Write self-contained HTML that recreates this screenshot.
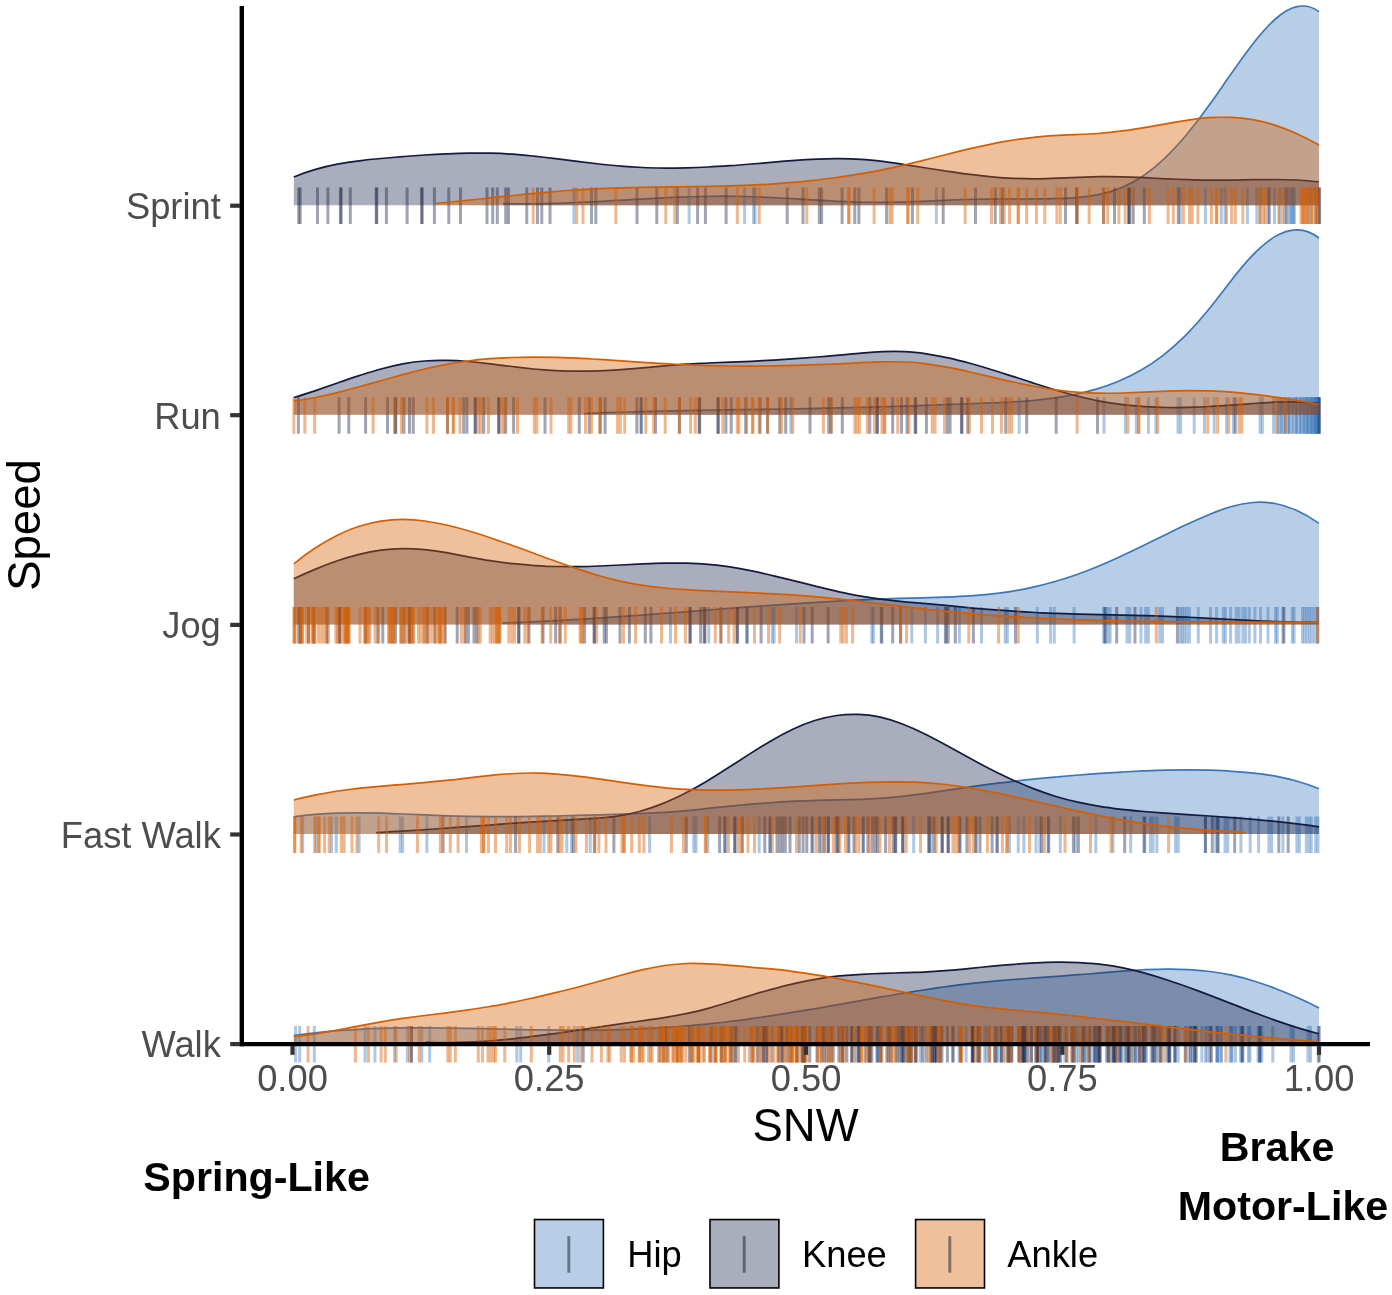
<!DOCTYPE html>
<html lang="en">
<head>
<meta charset="utf-8">
<title>SNW by Speed</title>
<style>
html,body{margin:0;padding:0;background:#fff;}
body{width:1392px;height:1295px;overflow:hidden;}
svg{display:block;}
.t,.t text{font-family:"Liberation Sans",sans-serif;}
</style>
</head>
<body>
<svg width="1392" height="1295" viewBox="0 0 1392 1295">
<rect width="1392" height="1295" fill="#fff"/>
<g>
<path d="M503 203.6C510.4 203.8 517.7 203.9 525.1 203.9C532.4 203.9 539.8 203.8 547.1 203.6C554.5 203.4 561.8 203.2 569.2 202.9C576.5 202.6 583.9 202.2 591.2 201.9C598.6 201.5 605.9 201.1 613.3 200.7C620.6 200.2 628 199.8 635.3 199.4C642.7 199 650 198.6 657.4 198.2C664.7 197.8 672.1 197.5 679.4 197.2C686.8 196.9 694.1 196.6 701.5 196.5C708.8 196.3 716.2 196.2 723.5 196.2C730.9 196.2 738.2 196.3 745.6 196.5C752.9 196.7 760.3 196.9 767.6 197.3C775 197.7 782.4 198.1 789.7 198.5C797.1 198.9 804.4 199.4 811.8 199.8C819.1 200.3 826.5 200.7 833.8 201.1C841.2 201.4 848.5 201.8 855.9 202C863.2 202.2 870.6 202.4 877.9 202.4C885.3 202.4 892.6 202.3 900 202.1C907.3 201.9 914.7 201.6 922 201.3C929.4 201 936.7 200.7 944.1 200.4C951.4 200.1 958.8 199.8 966.1 199.5C973.5 199.3 980.8 199.2 988.2 199.1C995.5 199 1002.9 199 1010.2 199C1017.6 199 1024.9 199 1032.3 198.9C1039.6 198.9 1047 198.9 1054.4 198.7C1061.7 198.6 1069.1 198.3 1076.4 197.7C1083.8 197.1 1091.1 196.2 1098.5 194.7C1105.8 193.2 1113.2 191.1 1120.5 188.1C1127.9 185.1 1135.2 181.3 1142.6 176.3C1149.9 171.3 1157.3 165.3 1164.6 158.3C1172 151.3 1179.3 143.3 1186.7 134.5C1194 125.8 1201.4 116.1 1208.7 105.8C1216.1 95.6 1223.4 84.8 1230.8 74.3C1238.1 63.7 1245.5 53.4 1252.8 43.9C1260.2 34.5 1267.5 26 1274.9 19.5C1282.2 12.9 1289.6 8.3 1296.9 6.7C1304.3 5 1311.6 6.3 1319 11.6L1319 205.2L503 205.2Z" fill="#3a77ba" fill-opacity="0.36"/>
<path d="M503 203.6C510.4 203.8 517.7 203.9 525.1 203.9C532.4 203.9 539.8 203.8 547.1 203.6C554.5 203.4 561.8 203.2 569.2 202.9C576.5 202.6 583.9 202.2 591.2 201.9C598.6 201.5 605.9 201.1 613.3 200.7C620.6 200.2 628 199.8 635.3 199.4C642.7 199 650 198.6 657.4 198.2C664.7 197.8 672.1 197.5 679.4 197.2C686.8 196.9 694.1 196.6 701.5 196.5C708.8 196.3 716.2 196.2 723.5 196.2C730.9 196.2 738.2 196.3 745.6 196.5C752.9 196.7 760.3 196.9 767.6 197.3C775 197.7 782.4 198.1 789.7 198.5C797.1 198.9 804.4 199.4 811.8 199.8C819.1 200.3 826.5 200.7 833.8 201.1C841.2 201.4 848.5 201.8 855.9 202C863.2 202.2 870.6 202.4 877.9 202.4C885.3 202.4 892.6 202.3 900 202.1C907.3 201.9 914.7 201.6 922 201.3C929.4 201 936.7 200.7 944.1 200.4C951.4 200.1 958.8 199.8 966.1 199.5C973.5 199.3 980.8 199.2 988.2 199.1C995.5 199 1002.9 199 1010.2 199C1017.6 199 1024.9 199 1032.3 198.9C1039.6 198.9 1047 198.9 1054.4 198.7C1061.7 198.6 1069.1 198.3 1076.4 197.7C1083.8 197.1 1091.1 196.2 1098.5 194.7C1105.8 193.2 1113.2 191.1 1120.5 188.1C1127.9 185.1 1135.2 181.3 1142.6 176.3C1149.9 171.3 1157.3 165.3 1164.6 158.3C1172 151.3 1179.3 143.3 1186.7 134.5C1194 125.8 1201.4 116.1 1208.7 105.8C1216.1 95.6 1223.4 84.8 1230.8 74.3C1238.1 63.7 1245.5 53.4 1252.8 43.9C1260.2 34.5 1267.5 26 1274.9 19.5C1282.2 12.9 1289.6 8.3 1296.9 6.7C1304.3 5 1311.6 6.3 1319 11.6" fill="none" stroke="#3a77ba" stroke-width="1.7" stroke-linecap="butt"/>
<g stroke="#3a77ba" stroke-opacity="0.41" stroke-width="3" fill="none">
<path d="M573.9 187.6v36.5M1077 187.6v36.5M1225 187.6v36.5M1280 187.6v36.5M1294.5 187.6v36.5"/>
<path d="M689.1 187.6v36.5M1129.5 187.6v36.5M1247.4 187.6v36.5M1284.8 187.6v36.5M1310 187.6v36.5"/>
<path d="M744.6 187.6v36.5M1133.5 187.6v36.5M1256.8 187.6v36.5M1289.5 187.6v36.5M1315.6 187.6v36.5"/>
<path d="M753.6 187.6v36.5M1180.2 187.6v36.5M1260.5 187.6v36.5M1291 187.6v36.5"/>
<path d="M755 187.6v36.5M1205.4 187.6v36.5M1268 187.6v36.5M1292.3 187.6v36.5"/>
<path d="M936.4 187.6v36.5M1221.3 187.6v36.5M1274.5 187.6v36.5M1293.4 187.6v36.5"/>
</g>
<path d="M293.8 177C301 174 308.3 171.5 315.6 169.4C322.8 167.3 330.1 165.6 337.4 164.2C344.6 162.8 351.9 161.7 359.2 160.8C366.5 159.8 373.7 159.1 381 158.5C388.3 157.8 395.5 157.2 402.8 156.6C410.1 156.1 417.4 155.5 424.6 155C431.9 154.5 439.2 154.1 446.4 153.8C453.7 153.5 461 153.2 468.3 153.1C475.5 153 482.8 153 490.1 153.2C497.3 153.4 504.6 153.7 511.9 154.2C519.2 154.7 526.4 155.4 533.7 156.1C541 156.9 548.2 157.7 555.5 158.6C562.8 159.5 570.1 160.5 577.3 161.4C584.6 162.3 591.9 163.2 599.1 164C606.4 164.8 613.7 165.6 621 166.2C628.2 166.8 635.5 167.2 642.8 167.5C650 167.9 657.3 168 664.6 168.1C671.9 168.1 679.1 168 686.4 167.9C693.7 167.7 700.9 167.4 708.2 167C715.5 166.7 722.8 166.2 730 165.7C737.3 165.2 744.6 164.6 751.8 164C759.1 163.4 766.4 162.8 773.7 162.2C780.9 161.5 788.2 160.9 795.5 160.4C802.7 159.8 810 159.4 817.3 159.1C824.6 158.7 831.8 158.5 839.1 158.6C846.4 158.6 853.6 158.8 860.9 159.3C868.2 159.7 875.5 160.5 882.7 161.4C890 162.4 897.3 163.4 904.5 164.6C911.8 165.7 919.1 166.8 926.4 168C933.6 169.1 940.9 170.3 948.2 171.3C955.4 172.4 962.7 173.4 970 174.4C977.2 175.3 984.5 176.1 991.8 176.8C999.1 177.5 1006.3 178 1013.6 178.3C1020.9 178.7 1028.1 178.8 1035.4 178.8C1042.7 178.7 1050 178.5 1057.2 178.2C1064.5 177.9 1071.8 177.6 1079 177.3C1086.3 177 1093.6 176.7 1100.9 176.7C1108.1 176.6 1115.4 176.7 1122.7 176.9C1129.9 177.1 1137.2 177.4 1144.5 177.7C1151.8 178.1 1159 178.4 1166.3 178.8C1173.6 179.1 1180.8 179.4 1188.1 179.6C1195.4 179.9 1202.7 180 1209.9 180.1C1217.2 180.2 1224.5 180.2 1231.7 180.1C1239 180 1246.3 179.8 1253.6 179.7C1260.8 179.6 1268.1 179.5 1275.4 179.5C1282.6 179.5 1289.9 179.7 1297.2 180C1304.5 180.4 1311.7 181.1 1319 182L1319 205.2L293.8 205.2Z" fill="#131b42" fill-opacity="0.36"/>
<path d="M293.8 177C301 174 308.3 171.5 315.6 169.4C322.8 167.3 330.1 165.6 337.4 164.2C344.6 162.8 351.9 161.7 359.2 160.8C366.5 159.8 373.7 159.1 381 158.5C388.3 157.8 395.5 157.2 402.8 156.6C410.1 156.1 417.4 155.5 424.6 155C431.9 154.5 439.2 154.1 446.4 153.8C453.7 153.5 461 153.2 468.3 153.1C475.5 153 482.8 153 490.1 153.2C497.3 153.4 504.6 153.7 511.9 154.2C519.2 154.7 526.4 155.4 533.7 156.1C541 156.9 548.2 157.7 555.5 158.6C562.8 159.5 570.1 160.5 577.3 161.4C584.6 162.3 591.9 163.2 599.1 164C606.4 164.8 613.7 165.6 621 166.2C628.2 166.8 635.5 167.2 642.8 167.5C650 167.9 657.3 168 664.6 168.1C671.9 168.1 679.1 168 686.4 167.9C693.7 167.7 700.9 167.4 708.2 167C715.5 166.7 722.8 166.2 730 165.7C737.3 165.2 744.6 164.6 751.8 164C759.1 163.4 766.4 162.8 773.7 162.2C780.9 161.5 788.2 160.9 795.5 160.4C802.7 159.8 810 159.4 817.3 159.1C824.6 158.7 831.8 158.5 839.1 158.6C846.4 158.6 853.6 158.8 860.9 159.3C868.2 159.7 875.5 160.5 882.7 161.4C890 162.4 897.3 163.4 904.5 164.6C911.8 165.7 919.1 166.8 926.4 168C933.6 169.1 940.9 170.3 948.2 171.3C955.4 172.4 962.7 173.4 970 174.4C977.2 175.3 984.5 176.1 991.8 176.8C999.1 177.5 1006.3 178 1013.6 178.3C1020.9 178.7 1028.1 178.8 1035.4 178.8C1042.7 178.7 1050 178.5 1057.2 178.2C1064.5 177.9 1071.8 177.6 1079 177.3C1086.3 177 1093.6 176.7 1100.9 176.7C1108.1 176.6 1115.4 176.7 1122.7 176.9C1129.9 177.1 1137.2 177.4 1144.5 177.7C1151.8 178.1 1159 178.4 1166.3 178.8C1173.6 179.1 1180.8 179.4 1188.1 179.6C1195.4 179.9 1202.7 180 1209.9 180.1C1217.2 180.2 1224.5 180.2 1231.7 180.1C1239 180 1246.3 179.8 1253.6 179.7C1260.8 179.6 1268.1 179.5 1275.4 179.5C1282.6 179.5 1289.9 179.7 1297.2 180C1304.5 180.4 1311.7 181.1 1319 182" fill="none" stroke="#131b42" stroke-width="1.7" stroke-linecap="butt"/>
<g stroke="#131b42" stroke-opacity="0.40" stroke-width="3" fill="none">
<path d="M298.7 187.6v36.5M350.3 187.6v36.5M422.2 187.6v36.5M497.3 187.6v36.5M550 187.6v36.5M697.6 187.6v36.5M821.6 187.6v36.5M943.2 187.6v36.5M1103.6 187.6v36.5M1269.3 187.6v36.5"/>
<path d="M300.2 187.6v36.5M376.2 187.6v36.5M434.4 187.6v36.5M505.7 187.6v36.5M591.5 187.6v36.5M705.4 187.6v36.5M842.1 187.6v36.5M975.5 187.6v36.5M1114.5 187.6v36.5M1286.7 187.6v36.5"/>
<path d="M317.5 187.6v36.5M376.8 187.6v36.5M448.8 187.6v36.5M508.5 187.6v36.5M595.8 187.6v36.5M726.1 187.6v36.5M854.8 187.6v36.5M995.3 187.6v36.5M1128.5 187.6v36.5M1319 187.6v36.5"/>
<path d="M327.9 187.6v36.5M386.4 187.6v36.5M460.5 187.6v36.5M526.8 187.6v36.5M637 187.6v36.5M787.2 187.6v36.5M858.9 187.6v36.5M1002.4 187.6v36.5M1129.3 187.6v36.5M1319.6 187.6v36.5"/>
<path d="M340.4 187.6v36.5M407.1 187.6v36.5M487 187.6v36.5M537.5 187.6v36.5M656.8 187.6v36.5M803 187.6v36.5M886.6 187.6v36.5M1065.5 187.6v36.5M1144.3 187.6v36.5"/>
<path d="M341.2 187.6v36.5M421.6 187.6v36.5M492.7 187.6v36.5M541.8 187.6v36.5M677.4 187.6v36.5M819.3 187.6v36.5M912.4 187.6v36.5M1076.5 187.6v36.5M1178.3 187.6v36.5"/>
</g>
<path d="M435.5 203.5C442.9 202.8 450.2 202.1 457.6 201.3C464.9 200.5 472.3 199.8 479.7 199C487 198.2 494.4 197.4 501.8 196.6C509.1 195.9 516.5 195.1 523.9 194.4C531.2 193.7 538.6 193 545.9 192.3C553.3 191.7 560.7 191.1 568 190.5C575.4 190 582.8 189.5 590.1 189.1C597.5 188.7 604.8 188.4 612.2 188.1C619.6 187.9 626.9 187.7 634.3 187.5C641.6 187.3 649 187.2 656.4 187.1C663.7 187 671.1 186.9 678.5 186.8C685.8 186.7 693.2 186.6 700.5 186.5C707.9 186.4 715.3 186.3 722.6 186.1C730 185.9 737.4 185.7 744.7 185.4C752.1 185.1 759.4 184.7 766.8 184.3C774.2 183.8 781.5 183.3 788.9 182.7C796.3 182.1 803.6 181.4 811 180.6C818.4 179.8 825.7 178.9 833.1 178C840.4 177 847.8 175.9 855.2 174.7C862.5 173.5 869.9 172.2 877.2 170.8C884.6 169.4 892 167.8 899.3 166.2C906.7 164.5 914.1 162.7 921.4 160.9C928.8 159 936.1 157.1 943.5 155.2C950.9 153.3 958.2 151.5 965.6 149.7C973 147.9 980.3 146.3 987.7 144.8C995 143.3 1002.4 141.9 1009.8 140.7C1017.1 139.5 1024.5 138.5 1031.9 137.6C1039.2 136.8 1046.6 136.1 1053.9 135.7C1061.3 135.2 1068.7 134.9 1076 134.6C1083.4 134.3 1090.8 134 1098.1 133.5C1105.5 132.9 1112.9 132.2 1120.2 131.2C1127.6 130.3 1134.9 129.1 1142.3 127.9C1149.7 126.7 1157 125.4 1164.4 124.1C1171.7 122.8 1179.1 121.5 1186.5 120.4C1193.8 119.2 1201.2 118.2 1208.6 117.7C1215.9 117.2 1223.3 117.1 1230.7 117.4C1238 117.7 1245.4 118.5 1252.7 119.7C1260.1 121 1267.5 122.8 1274.8 125.1C1282.2 127.5 1289.5 130.4 1296.9 133.7C1304.3 137.1 1311.6 140.9 1319 145L1319 205.2L435.5 205.2Z" fill="#d55e00" fill-opacity="0.39"/>
<path d="M435.5 203.5C442.9 202.8 450.2 202.1 457.6 201.3C464.9 200.5 472.3 199.8 479.7 199C487 198.2 494.4 197.4 501.8 196.6C509.1 195.9 516.5 195.1 523.9 194.4C531.2 193.7 538.6 193 545.9 192.3C553.3 191.7 560.7 191.1 568 190.5C575.4 190 582.8 189.5 590.1 189.1C597.5 188.7 604.8 188.4 612.2 188.1C619.6 187.9 626.9 187.7 634.3 187.5C641.6 187.3 649 187.2 656.4 187.1C663.7 187 671.1 186.9 678.5 186.8C685.8 186.7 693.2 186.6 700.5 186.5C707.9 186.4 715.3 186.3 722.6 186.1C730 185.9 737.4 185.7 744.7 185.4C752.1 185.1 759.4 184.7 766.8 184.3C774.2 183.8 781.5 183.3 788.9 182.7C796.3 182.1 803.6 181.4 811 180.6C818.4 179.8 825.7 178.9 833.1 178C840.4 177 847.8 175.9 855.2 174.7C862.5 173.5 869.9 172.2 877.2 170.8C884.6 169.4 892 167.8 899.3 166.2C906.7 164.5 914.1 162.7 921.4 160.9C928.8 159 936.1 157.1 943.5 155.2C950.9 153.3 958.2 151.5 965.6 149.7C973 147.9 980.3 146.3 987.7 144.8C995 143.3 1002.4 141.9 1009.8 140.7C1017.1 139.5 1024.5 138.5 1031.9 137.6C1039.2 136.8 1046.6 136.1 1053.9 135.7C1061.3 135.2 1068.7 134.9 1076 134.6C1083.4 134.3 1090.8 134 1098.1 133.5C1105.5 132.9 1112.9 132.2 1120.2 131.2C1127.6 130.3 1134.9 129.1 1142.3 127.9C1149.7 126.7 1157 125.4 1164.4 124.1C1171.7 122.8 1179.1 121.5 1186.5 120.4C1193.8 119.2 1201.2 118.2 1208.6 117.7C1215.9 117.2 1223.3 117.1 1230.7 117.4C1238 117.7 1245.4 118.5 1252.7 119.7C1260.1 121 1267.5 122.8 1274.8 125.1C1282.2 127.5 1289.5 130.4 1296.9 133.7C1304.3 137.1 1311.6 140.9 1319 145" fill="none" stroke="#d55e00" stroke-width="1.7" stroke-linecap="butt"/>
<g stroke="#d55e00" stroke-opacity="0.44" stroke-width="3" fill="none">
<path d="M533.2 187.6v36.5M737.3 187.6v36.5M889.9 187.6v36.5M991.5 187.6v36.5M1026.7 187.6v36.5M1089.2 187.6v36.5M1149.4 187.6v36.5M1197.9 187.6v36.5M1235.3 187.6v36.5M1282.9 187.6v36.5M1307.5 187.6v36.5M1317.5 187.6v36.5"/>
<path d="M576.7 187.6v36.5M759.2 187.6v36.5M892.2 187.6v36.5M1000.5 187.6v36.5M1036.4 187.6v36.5M1103.6 187.6v36.5M1168.1 187.6v36.5M1211.4 187.6v36.5M1242.8 187.6v36.5M1301 187.6v36.5M1308.5 187.6v36.5"/>
<path d="M583 187.6v36.5M806.8 187.6v36.5M907.6 187.6v36.5M1004.2 187.6v36.5M1044.8 187.6v36.5M1107.7 187.6v36.5M1173.3 187.6v36.5M1216.3 187.6v36.5M1259.6 187.6v36.5M1302.5 187.6v36.5M1311.5 187.6v36.5"/>
<path d="M615.9 187.6v36.5M848.5 187.6v36.5M908.2 187.6v36.5M1009.5 187.6v36.5M1056.9 187.6v36.5M1118.9 187.6v36.5M1183.4 187.6v36.5M1216.9 187.6v36.5M1263.3 187.6v36.5M1303.5 187.6v36.5M1312.5 187.6v36.5"/>
<path d="M665.8 187.6v36.5M849.1 187.6v36.5M917.8 187.6v36.5M1018 187.6v36.5M1060.3 187.6v36.5M1125.1 187.6v36.5M1189.5 187.6v36.5M1226.5 187.6v36.5M1265.2 187.6v36.5M1305 187.6v36.5M1315.5 187.6v36.5"/>
<path d="M674.8 187.6v36.5M874.1 187.6v36.5M965.2 187.6v36.5M1018.6 187.6v36.5M1077.5 187.6v36.5M1132.6 187.6v36.5M1192.3 187.6v36.5M1231.6 187.6v36.5M1278.8 187.6v36.5M1306 187.6v36.5M1316.5 187.6v36.5"/>
</g>
</g>
<g>
<path d="M584 413.5C591.4 413.2 598.8 412.9 606.3 412.7C613.7 412.4 621.1 412.2 628.5 412C636 411.7 643.4 411.5 650.8 411.4C658.2 411.2 665.7 411 673.1 410.9C680.5 410.7 687.9 410.6 695.4 410.4C702.8 410.3 710.2 410.2 717.6 410C725.1 409.9 732.5 409.8 739.9 409.7C747.3 409.6 754.8 409.5 762.2 409.3C769.6 409.2 777 409.1 784.5 409C791.9 408.9 799.3 408.7 806.7 408.6C814.2 408.5 821.6 408.3 829 408.2C836.4 408 843.8 407.9 851.3 407.7C858.7 407.5 866.1 407.3 873.5 407.1C881 406.9 888.4 406.7 895.8 406.4C903.2 406.2 910.7 405.9 918.1 405.7C925.5 405.4 932.9 405.1 940.4 404.9C947.8 404.6 955.2 404.3 962.6 404C970.1 403.8 977.5 403.5 984.9 403.2C992.3 403 999.8 402.7 1007.2 402.3C1014.6 401.9 1022 401.4 1029.5 400.8C1036.9 400.2 1044.3 399.4 1051.7 398.4C1059.2 397.4 1066.6 396.1 1074 394.6C1081.4 393.1 1088.8 391.3 1096.3 389.1C1103.7 386.9 1111.1 384.3 1118.5 381.2C1126 378.1 1133.4 374.5 1140.8 370.2C1148.2 366 1155.7 361 1163.1 355.3C1170.5 349.6 1177.9 343.1 1185.4 335.7C1192.8 328.2 1200.2 319.9 1207.6 310.8C1215.1 301.7 1222.5 291.8 1229.9 282.2C1237.3 272.6 1244.8 263.5 1252.2 255.7C1259.6 248 1267 241.5 1274.5 236.9C1281.9 232.4 1289.3 229.8 1296.7 229.8C1304.2 229.7 1311.6 232.2 1319 238L1319 414.8L584 414.8Z" fill="#3a77ba" fill-opacity="0.36"/>
<path d="M584 413.5C591.4 413.2 598.8 412.9 606.3 412.7C613.7 412.4 621.1 412.2 628.5 412C636 411.7 643.4 411.5 650.8 411.4C658.2 411.2 665.7 411 673.1 410.9C680.5 410.7 687.9 410.6 695.4 410.4C702.8 410.3 710.2 410.2 717.6 410C725.1 409.9 732.5 409.8 739.9 409.7C747.3 409.6 754.8 409.5 762.2 409.3C769.6 409.2 777 409.1 784.5 409C791.9 408.9 799.3 408.7 806.7 408.6C814.2 408.5 821.6 408.3 829 408.2C836.4 408 843.8 407.9 851.3 407.7C858.7 407.5 866.1 407.3 873.5 407.1C881 406.9 888.4 406.7 895.8 406.4C903.2 406.2 910.7 405.9 918.1 405.7C925.5 405.4 932.9 405.1 940.4 404.9C947.8 404.6 955.2 404.3 962.6 404C970.1 403.8 977.5 403.5 984.9 403.2C992.3 403 999.8 402.7 1007.2 402.3C1014.6 401.9 1022 401.4 1029.5 400.8C1036.9 400.2 1044.3 399.4 1051.7 398.4C1059.2 397.4 1066.6 396.1 1074 394.6C1081.4 393.1 1088.8 391.3 1096.3 389.1C1103.7 386.9 1111.1 384.3 1118.5 381.2C1126 378.1 1133.4 374.5 1140.8 370.2C1148.2 366 1155.7 361 1163.1 355.3C1170.5 349.6 1177.9 343.1 1185.4 335.7C1192.8 328.2 1200.2 319.9 1207.6 310.8C1215.1 301.7 1222.5 291.8 1229.9 282.2C1237.3 272.6 1244.8 263.5 1252.2 255.7C1259.6 248 1267 241.5 1274.5 236.9C1281.9 232.4 1289.3 229.8 1296.7 229.8C1304.2 229.7 1311.6 232.2 1319 238" fill="none" stroke="#3a77ba" stroke-width="1.7" stroke-linecap="butt"/>
<g stroke="#3a77ba" stroke-opacity="0.41" stroke-width="3" fill="none">
<path d="M641.5 397.2v36.5M1148.4 397.2v36.5M1214.2 397.2v36.5M1278 397.2v36.5M1288 397.2v36.5M1296.4 397.2v36.5M1304 397.2v36.5M1310.5 397.2v36.5M1314.7 397.2v36.5M1317.8 397.2v36.5"/>
<path d="M790.9 397.2v36.5M1155.9 397.2v36.5M1226.5 397.2v36.5M1279.2 397.2v36.5M1288.9 397.2v36.5M1297 397.2v36.5M1304.6 397.2v36.5M1311 397.2v36.5M1315.2 397.2v36.5M1318.2 397.2v36.5"/>
<path d="M1019.2 397.2v36.5M1178 397.2v36.5M1233.4 397.2v36.5M1281.5 397.2v36.5M1289.5 397.2v36.5M1299.8 397.2v36.5M1306.8 397.2v36.5M1311.5 397.2v36.5M1315.8 397.2v36.5M1318.6 397.2v36.5"/>
<path d="M1104 397.2v36.5M1180.6 397.2v36.5M1260.1 397.2v36.5M1282 397.2v36.5M1292.5 397.2v36.5M1300.3 397.2v36.5M1307.2 397.2v36.5M1312 397.2v36.5M1316.5 397.2v36.5M1319 397.2v36.5"/>
<path d="M1125.5 397.2v36.5M1194.2 397.2v36.5M1262.4 397.2v36.5M1284.8 397.2v36.5M1293 397.2v36.5M1301 397.2v36.5M1307.8 397.2v36.5M1313.8 397.2v36.5M1317 397.2v36.5M1319 397.2v36.5"/>
<path d="M1136.3 397.2v36.5M1204.5 397.2v36.5M1273.6 397.2v36.5M1285.3 397.2v36.5M1295.8 397.2v36.5M1303.5 397.2v36.5M1308.3 397.2v36.5M1314.2 397.2v36.5M1317.4 397.2v36.5M1319 397.2v36.5"/>
</g>
<path d="M293.8 397.5C301 395.4 308.3 393 315.6 390.6C322.8 388.1 330.1 385.6 337.4 383C344.6 380.5 351.9 378 359.2 375.6C366.5 373.3 373.7 371 381 369C388.3 367 395.5 365.3 402.8 363.9C410.1 362.5 417.4 361.5 424.6 361C431.9 360.4 439.2 360.2 446.4 360.4C453.7 360.5 461 360.9 468.3 361.5C475.5 362.1 482.8 362.9 490.1 363.8C497.3 364.6 504.6 365.6 511.9 366.5C519.2 367.4 526.4 368.2 533.7 369C541 369.7 548.2 370.2 555.5 370.6C562.8 370.9 570.1 371.1 577.3 371.1C584.6 371.1 591.9 371 599.1 370.8C606.4 370.5 613.7 370.1 621 369.6C628.2 369.1 635.5 368.5 642.8 367.9C650 367.3 657.3 366.6 664.6 365.9C671.9 365.3 679.1 364.7 686.4 364.2C693.7 363.7 700.9 363.4 708.2 363C715.5 362.7 722.8 362.4 730 362.1C737.3 361.9 744.6 361.6 751.8 361.3C759.1 360.9 766.4 360.5 773.7 360.1C780.9 359.7 788.2 359.2 795.5 358.7C802.7 358.2 810 357.6 817.3 357C824.6 356.4 831.8 355.8 839.1 355.2C846.4 354.6 853.6 353.9 860.9 353.2C868.2 352.6 875.5 352 882.7 351.7C890 351.4 897.3 351.3 904.5 351.7C911.8 352 919.1 352.8 926.4 353.8C933.6 354.9 940.9 356.2 948.2 357.8C955.4 359.4 962.7 361.3 970 363.3C977.2 365.3 984.5 367.4 991.8 369.7C999.1 371.9 1006.3 374.3 1013.6 376.6C1020.9 379 1028.1 381.4 1035.4 383.7C1042.7 386 1050 388.3 1057.2 390.5C1064.5 392.6 1071.8 394.6 1079 396.5C1086.3 398.3 1093.6 400 1100.9 401.3C1108.1 402.7 1115.4 403.8 1122.7 404.7C1129.9 405.6 1137.2 406.2 1144.5 406.7C1151.8 407.1 1159 407.4 1166.3 407.5C1173.6 407.6 1180.8 407.6 1188.1 407.4C1195.4 407.2 1202.7 406.9 1209.9 406.5C1217.2 406.1 1224.5 405.6 1231.7 405.1C1239 404.6 1246.3 404 1253.6 403.5C1260.8 402.9 1268.1 402.4 1275.4 402.2C1282.6 401.9 1289.9 401.8 1297.2 402C1304.5 402.2 1311.7 402.7 1319 403.7L1319 414.8L293.8 414.8Z" fill="#131b42" fill-opacity="0.36"/>
<path d="M293.8 397.5C301 395.4 308.3 393 315.6 390.6C322.8 388.1 330.1 385.6 337.4 383C344.6 380.5 351.9 378 359.2 375.6C366.5 373.3 373.7 371 381 369C388.3 367 395.5 365.3 402.8 363.9C410.1 362.5 417.4 361.5 424.6 361C431.9 360.4 439.2 360.2 446.4 360.4C453.7 360.5 461 360.9 468.3 361.5C475.5 362.1 482.8 362.9 490.1 363.8C497.3 364.6 504.6 365.6 511.9 366.5C519.2 367.4 526.4 368.2 533.7 369C541 369.7 548.2 370.2 555.5 370.6C562.8 370.9 570.1 371.1 577.3 371.1C584.6 371.1 591.9 371 599.1 370.8C606.4 370.5 613.7 370.1 621 369.6C628.2 369.1 635.5 368.5 642.8 367.9C650 367.3 657.3 366.6 664.6 365.9C671.9 365.3 679.1 364.7 686.4 364.2C693.7 363.7 700.9 363.4 708.2 363C715.5 362.7 722.8 362.4 730 362.1C737.3 361.9 744.6 361.6 751.8 361.3C759.1 360.9 766.4 360.5 773.7 360.1C780.9 359.7 788.2 359.2 795.5 358.7C802.7 358.2 810 357.6 817.3 357C824.6 356.4 831.8 355.8 839.1 355.2C846.4 354.6 853.6 353.9 860.9 353.2C868.2 352.6 875.5 352 882.7 351.7C890 351.4 897.3 351.3 904.5 351.7C911.8 352 919.1 352.8 926.4 353.8C933.6 354.9 940.9 356.2 948.2 357.8C955.4 359.4 962.7 361.3 970 363.3C977.2 365.3 984.5 367.4 991.8 369.7C999.1 371.9 1006.3 374.3 1013.6 376.6C1020.9 379 1028.1 381.4 1035.4 383.7C1042.7 386 1050 388.3 1057.2 390.5C1064.5 392.6 1071.8 394.6 1079 396.5C1086.3 398.3 1093.6 400 1100.9 401.3C1108.1 402.7 1115.4 403.8 1122.7 404.7C1129.9 405.6 1137.2 406.2 1144.5 406.7C1151.8 407.1 1159 407.4 1166.3 407.5C1173.6 407.6 1180.8 407.6 1188.1 407.4C1195.4 407.2 1202.7 406.9 1209.9 406.5C1217.2 406.1 1224.5 405.6 1231.7 405.1C1239 404.6 1246.3 404 1253.6 403.5C1260.8 402.9 1268.1 402.4 1275.4 402.2C1282.6 401.9 1289.9 401.8 1297.2 402C1304.5 402.2 1311.7 402.7 1319 403.7" fill="none" stroke="#131b42" stroke-width="1.7" stroke-linecap="butt"/>
<g stroke="#131b42" stroke-opacity="0.40" stroke-width="3" fill="none">
<path d="M298.4 397.2v36.5M395.8 397.2v36.5M466.9 397.2v36.5M505.7 397.2v36.5M605.1 397.2v36.5M699.7 397.2v36.5M760.1 397.2v36.5M831.1 397.2v36.5M901.5 397.2v36.5M950.1 397.2v36.5M1056.2 397.2v36.5"/>
<path d="M339.1 397.2v36.5M403.9 397.2v36.5M475 397.2v36.5M513.6 397.2v36.5M636.9 397.2v36.5M717.8 397.2v36.5M767.6 397.2v36.5M842.3 397.2v36.5M907.1 397.2v36.5M961.4 397.2v36.5M1097.5 397.2v36.5"/>
<path d="M348.8 397.2v36.5M409.5 397.2v36.5M475.6 397.2v36.5M545 397.2v36.5M641 397.2v36.5M718.4 397.2v36.5M779.7 397.2v36.5M869.8 397.2v36.5M915.2 397.2v36.5M962 397.2v36.5M1235.3 397.2v36.5"/>
<path d="M365.6 397.2v36.5M413.3 397.2v36.5M483.7 397.2v36.5M579.3 397.2v36.5M655.5 397.2v36.5M725.9 397.2v36.5M785.7 397.2v36.5M876.9 397.2v36.5M915.8 397.2v36.5M967.8 397.2v36.5M1319.2 397.2v36.5"/>
<path d="M387.5 397.2v36.5M447.5 397.2v36.5M498.5 397.2v36.5M589.2 397.2v36.5M679.4 397.2v36.5M731.2 397.2v36.5M810 397.2v36.5M877.5 397.2v36.5M926.4 397.2v36.5M1005.7 397.2v36.5"/>
<path d="M395.2 397.2v36.5M463.7 397.2v36.5M499.1 397.2v36.5M600.4 397.2v36.5M699.1 397.2v36.5M745.7 397.2v36.5M828.7 397.2v36.5M892.7 397.2v36.5M947.3 397.2v36.5M1026.7 397.2v36.5"/>
</g>
<path d="M293.8 401C301 400.1 308.3 398.9 315.6 397.5C322.8 396 330.1 394.4 337.4 392.6C344.6 390.8 351.9 388.9 359.2 386.8C366.5 384.8 373.7 382.8 381 380.7C388.3 378.6 395.5 376.6 402.8 374.6C410.1 372.6 417.4 370.7 424.6 369C431.9 367.3 439.2 365.7 446.4 364.4C453.7 363 461 361.9 468.3 361C475.5 360 482.8 359.3 490.1 358.7C497.3 358.1 504.6 357.7 511.9 357.5C519.2 357.2 526.4 357.1 533.7 357.1C541 357.1 548.2 357.2 555.5 357.4C562.8 357.6 570.1 357.9 577.3 358.2C584.6 358.5 591.9 359 599.1 359.4C606.4 359.9 613.7 360.3 621 360.8C628.2 361.3 635.5 361.8 642.8 362.3C650 362.8 657.3 363.3 664.6 363.7C671.9 364.1 679.1 364.5 686.4 364.8C693.7 365.1 700.9 365.4 708.2 365.6C715.5 365.8 722.8 365.9 730 366C737.3 366.1 744.6 366.1 751.8 366.1C759.1 366 766.4 366 773.7 365.8C780.9 365.7 788.2 365.6 795.5 365.4C802.7 365.2 810 364.9 817.3 364.7C824.6 364.4 831.8 364.1 839.1 363.8C846.4 363.5 853.6 363.1 860.9 362.7C868.2 362.4 875.5 362.1 882.7 361.9C890 361.7 897.3 361.7 904.5 362C911.8 362.2 919.1 362.8 926.4 363.8C933.6 364.7 940.9 366 948.2 367.4C955.4 368.8 962.7 370.4 970 372C977.2 373.7 984.5 375.4 991.8 377.1C999.1 378.8 1006.3 380.5 1013.6 382C1020.9 383.6 1028.1 385.1 1035.4 386.5C1042.7 387.9 1050 389.1 1057.2 390.1C1064.5 391.1 1071.8 391.8 1079 392.4C1086.3 392.9 1093.6 393.1 1100.9 393.2C1108.1 393.3 1115.4 393.2 1122.7 393C1129.9 392.8 1137.2 392.5 1144.5 392.2C1151.8 391.8 1159 391.5 1166.3 391.2C1173.6 390.9 1180.8 390.7 1188.1 390.6C1195.4 390.6 1202.7 390.6 1209.9 390.9C1217.2 391.2 1224.5 391.6 1231.7 392.2C1239 392.8 1246.3 393.5 1253.6 394.3C1260.8 395.2 1268.1 396.1 1275.4 397.2C1282.6 398.2 1289.9 399.4 1297.2 400.6C1304.5 401.7 1311.7 403 1319 404.3L1319 414.8L293.8 414.8Z" fill="#d55e00" fill-opacity="0.39"/>
<path d="M293.8 401C301 400.1 308.3 398.9 315.6 397.5C322.8 396 330.1 394.4 337.4 392.6C344.6 390.8 351.9 388.9 359.2 386.8C366.5 384.8 373.7 382.8 381 380.7C388.3 378.6 395.5 376.6 402.8 374.6C410.1 372.6 417.4 370.7 424.6 369C431.9 367.3 439.2 365.7 446.4 364.4C453.7 363 461 361.9 468.3 361C475.5 360 482.8 359.3 490.1 358.7C497.3 358.1 504.6 357.7 511.9 357.5C519.2 357.2 526.4 357.1 533.7 357.1C541 357.1 548.2 357.2 555.5 357.4C562.8 357.6 570.1 357.9 577.3 358.2C584.6 358.5 591.9 359 599.1 359.4C606.4 359.9 613.7 360.3 621 360.8C628.2 361.3 635.5 361.8 642.8 362.3C650 362.8 657.3 363.3 664.6 363.7C671.9 364.1 679.1 364.5 686.4 364.8C693.7 365.1 700.9 365.4 708.2 365.6C715.5 365.8 722.8 365.9 730 366C737.3 366.1 744.6 366.1 751.8 366.1C759.1 366 766.4 366 773.7 365.8C780.9 365.7 788.2 365.6 795.5 365.4C802.7 365.2 810 364.9 817.3 364.7C824.6 364.4 831.8 364.1 839.1 363.8C846.4 363.5 853.6 363.1 860.9 362.7C868.2 362.4 875.5 362.1 882.7 361.9C890 361.7 897.3 361.7 904.5 362C911.8 362.2 919.1 362.8 926.4 363.8C933.6 364.7 940.9 366 948.2 367.4C955.4 368.8 962.7 370.4 970 372C977.2 373.7 984.5 375.4 991.8 377.1C999.1 378.8 1006.3 380.5 1013.6 382C1020.9 383.6 1028.1 385.1 1035.4 386.5C1042.7 387.9 1050 389.1 1057.2 390.1C1064.5 391.1 1071.8 391.8 1079 392.4C1086.3 392.9 1093.6 393.1 1100.9 393.2C1108.1 393.3 1115.4 393.2 1122.7 393C1129.9 392.8 1137.2 392.5 1144.5 392.2C1151.8 391.8 1159 391.5 1166.3 391.2C1173.6 390.9 1180.8 390.7 1188.1 390.6C1195.4 390.6 1202.7 390.6 1209.9 390.9C1217.2 391.2 1224.5 391.6 1231.7 392.2C1239 392.8 1246.3 393.5 1253.6 394.3C1260.8 395.2 1268.1 396.1 1275.4 397.2C1282.6 398.2 1289.9 399.4 1297.2 400.6C1304.5 401.7 1311.7 403 1319 404.3" fill="none" stroke="#d55e00" stroke-width="1.7" stroke-linecap="butt"/>
<g stroke="#d55e00" stroke-opacity="0.44" stroke-width="3" fill="none">
<path d="M293.9 397.2v36.5M426.9 397.2v36.5M478.6 397.2v36.5M534.3 397.2v36.5M591.5 397.2v36.5M653.7 397.2v36.5M737.3 397.2v36.5M767.6 397.2v36.5M857.1 397.2v36.5M884.9 397.2v36.5M969.3 397.2v36.5M1077.1 397.2v36.5M1217.6 397.2v36.5"/>
<path d="M304.9 397.2v36.5M433.4 397.2v36.5M480.9 397.2v36.5M536.9 397.2v36.5M599.5 397.2v36.5M665.2 397.2v36.5M739 397.2v36.5M781.6 397.2v36.5M859.5 397.2v36.5M897.8 397.2v36.5M981.5 397.2v36.5M1127.9 397.2v36.5M1228.8 397.2v36.5"/>
<path d="M314.7 397.2v36.5M447.5 397.2v36.5M488.5 397.2v36.5M551 397.2v36.5M617.6 397.2v36.5M679.4 397.2v36.5M746.5 397.2v36.5M792.8 397.2v36.5M867.3 397.2v36.5M909 397.2v36.5M992.5 397.2v36.5M1138.4 397.2v36.5M1239 397.2v36.5"/>
<path d="M373.1 397.2v36.5M453.1 397.2v36.5M502 397.2v36.5M568.7 397.2v36.5M620.4 397.2v36.5M690.6 397.2v36.5M752.4 397.2v36.5M823.4 397.2v36.5M874.4 397.2v36.5M932.3 397.2v36.5M1001.4 397.2v36.5M1139 397.2v36.5M1241.8 397.2v36.5"/>
<path d="M394.6 397.2v36.5M453.7 397.2v36.5M504.2 397.2v36.5M570.9 397.2v36.5M624.7 397.2v36.5M695.3 397.2v36.5M753 397.2v36.5M831.1 397.2v36.5M881.9 397.2v36.5M935.1 397.2v36.5M1008.9 397.2v36.5M1157.8 397.2v36.5M1276.4 397.2v36.5"/>
<path d="M401.5 397.2v36.5M460 397.2v36.5M517.5 397.2v36.5M585.5 397.2v36.5M645.8 397.2v36.5M722.8 397.2v36.5M759.2 397.2v36.5M854.8 397.2v36.5M884.3 397.2v36.5M944.5 397.2v36.5M1011.7 397.2v36.5M1207.8 397.2v36.5M1285.2 397.2v36.5"/>
</g>
</g>
<g>
<path d="M502.5 623C509.9 622.8 517.2 622.5 524.6 622.2C531.9 621.9 539.3 621.5 546.6 621.1C554 620.8 561.3 620.4 568.7 619.9C576.1 619.5 583.4 619.1 590.8 618.6C598.1 618.1 605.5 617.6 612.8 617.1C620.2 616.6 627.5 616.1 634.9 615.6C642.3 615 649.6 614.5 657 613.9C664.3 613.4 671.7 612.8 679 612.3C686.4 611.7 693.8 611.1 701.1 610.6C708.5 610 715.8 609.4 723.2 608.9C730.5 608.3 737.9 607.8 745.2 607.2C752.6 606.7 760 606.1 767.3 605.6C774.7 605.1 782 604.6 789.4 604.1C796.7 603.6 804.1 603.1 811.4 602.6C818.8 602.2 826.2 601.7 833.5 601.3C840.9 600.9 848.2 600.5 855.6 600.2C862.9 599.8 870.3 599.5 877.6 599.2C885 598.9 892.4 598.6 899.7 598.4C907.1 598.2 914.4 598 921.8 597.8C929.1 597.6 936.5 597.4 943.9 597.1C951.2 596.9 958.6 596.5 965.9 596.1C973.3 595.7 980.6 595.1 988 594.3C995.3 593.6 1002.7 592.7 1010.1 591.6C1017.4 590.4 1024.8 589 1032.1 587.4C1039.5 585.8 1046.8 583.9 1054.2 581.8C1061.5 579.7 1068.9 577.4 1076.3 574.8C1083.6 572.2 1091 569.4 1098.3 566.3C1105.7 563.2 1113 559.9 1120.4 556.5C1127.7 553.1 1135.1 549.6 1142.5 546C1149.8 542.4 1157.2 538.8 1164.5 535.2C1171.9 531.6 1179.2 528 1186.6 524.6C1194 521.1 1201.3 517.8 1208.7 514.7C1216 511.7 1223.4 508.9 1230.7 506.7C1238.1 504.6 1245.4 503.1 1252.8 502.5C1260.2 501.9 1267.5 502.2 1274.9 503.5C1282.2 504.8 1289.6 507.2 1296.9 510.5C1304.3 513.8 1311.6 518.1 1319 523.4L1319 624.5L502.5 624.5Z" fill="#3a77ba" fill-opacity="0.36"/>
<path d="M502.5 623C509.9 622.8 517.2 622.5 524.6 622.2C531.9 621.9 539.3 621.5 546.6 621.1C554 620.8 561.3 620.4 568.7 619.9C576.1 619.5 583.4 619.1 590.8 618.6C598.1 618.1 605.5 617.6 612.8 617.1C620.2 616.6 627.5 616.1 634.9 615.6C642.3 615 649.6 614.5 657 613.9C664.3 613.4 671.7 612.8 679 612.3C686.4 611.7 693.8 611.1 701.1 610.6C708.5 610 715.8 609.4 723.2 608.9C730.5 608.3 737.9 607.8 745.2 607.2C752.6 606.7 760 606.1 767.3 605.6C774.7 605.1 782 604.6 789.4 604.1C796.7 603.6 804.1 603.1 811.4 602.6C818.8 602.2 826.2 601.7 833.5 601.3C840.9 600.9 848.2 600.5 855.6 600.2C862.9 599.8 870.3 599.5 877.6 599.2C885 598.9 892.4 598.6 899.7 598.4C907.1 598.2 914.4 598 921.8 597.8C929.1 597.6 936.5 597.4 943.9 597.1C951.2 596.9 958.6 596.5 965.9 596.1C973.3 595.7 980.6 595.1 988 594.3C995.3 593.6 1002.7 592.7 1010.1 591.6C1017.4 590.4 1024.8 589 1032.1 587.4C1039.5 585.8 1046.8 583.9 1054.2 581.8C1061.5 579.7 1068.9 577.4 1076.3 574.8C1083.6 572.2 1091 569.4 1098.3 566.3C1105.7 563.2 1113 559.9 1120.4 556.5C1127.7 553.1 1135.1 549.6 1142.5 546C1149.8 542.4 1157.2 538.8 1164.5 535.2C1171.9 531.6 1179.2 528 1186.6 524.6C1194 521.1 1201.3 517.8 1208.7 514.7C1216 511.7 1223.4 508.9 1230.7 506.7C1238.1 504.6 1245.4 503.1 1252.8 502.5C1260.2 501.9 1267.5 502.2 1274.9 503.5C1282.2 504.8 1289.6 507.2 1296.9 510.5C1304.3 513.8 1311.6 518.1 1319 523.4" fill="none" stroke="#3a77ba" stroke-width="1.7" stroke-linecap="butt"/>
<g stroke="#3a77ba" stroke-opacity="0.41" stroke-width="3" fill="none">
<path d="M670.5 606.9v36.5M871.8 606.9v36.5M946.3 606.9v36.5M1050.6 606.9v36.5M1110.2 606.9v36.5M1159.7 606.9v36.5M1189.5 606.9v36.5M1230.6 606.9v36.5M1254.9 606.9v36.5M1292.3 606.9v36.5M1312 606.9v36.5"/>
<path d="M708.8 606.9v36.5M873.4 606.9v36.5M959.4 606.9v36.5M1054.3 606.9v36.5M1127 606.9v36.5M1162.5 606.9v36.5M1198.3 606.9v36.5M1236.2 606.9v36.5M1260.5 606.9v36.5M1294.1 606.9v36.5M1314.7 606.9v36.5"/>
<path d="M747 606.9v36.5M881.9 606.9v36.5M981.5 606.9v36.5M1074.1 606.9v36.5M1129.8 606.9v36.5M1180.2 606.9v36.5M1210.5 606.9v36.5M1239 606.9v36.5M1268 606.9v36.5M1302.5 606.9v36.5"/>
<path d="M772.3 606.9v36.5M911.8 606.9v36.5M1005.2 606.9v36.5M1103.6 606.9v36.5M1141 606.9v36.5M1182.2 606.9v36.5M1216.6 606.9v36.5M1242.8 606.9v36.5M1275.5 606.9v36.5M1304.8 606.9v36.5"/>
<path d="M774.1 606.9v36.5M925.4 606.9v36.5M1007.4 606.9v36.5M1105.8 606.9v36.5M1145.6 606.9v36.5M1184.3 606.9v36.5M1223.2 606.9v36.5M1245.6 606.9v36.5M1277.3 606.9v36.5M1307 606.9v36.5"/>
<path d="M796.5 606.9v36.5M937.6 606.9v36.5M1037.3 606.9v36.5M1108 606.9v36.5M1148.4 606.9v36.5M1186.7 606.9v36.5M1225.4 606.9v36.5M1249.3 606.9v36.5M1282.9 606.9v36.5M1309.5 606.9v36.5"/>
</g>
<path d="M293.8 578.8C301 575.3 308.3 572.1 315.6 569.1C322.8 566 330.1 563.3 337.4 560.8C344.6 558.3 351.9 556.2 359.2 554.4C366.5 552.6 373.7 551.2 381 550.2C388.3 549.2 395.5 548.7 402.8 548.6C410.1 548.5 417.4 548.9 424.6 549.6C431.9 550.3 439.2 551.4 446.4 552.7C453.7 554 461 555.4 468.3 556.8C475.5 558.2 482.8 559.6 490.1 560.7C497.3 561.8 504.6 562.8 511.9 563.6C519.2 564.3 526.4 565 533.7 565.5C541 565.9 548.2 566.3 555.5 566.5C562.8 566.6 570.1 566.7 577.3 566.6C584.6 566.5 591.9 566.3 599.1 566C606.4 565.7 613.7 565.4 621 565C628.2 564.6 635.5 564.3 642.8 563.9C650 563.6 657.3 563.3 664.6 563.2C671.9 563.1 679.1 563 686.4 563.2C693.7 563.4 700.9 563.7 708.2 564.3C715.5 564.9 722.8 565.8 730 566.9C737.3 568 744.6 569.4 751.8 570.9C759.1 572.4 766.4 574 773.7 575.8C780.9 577.5 788.2 579.3 795.5 581.1C802.7 583 810 584.8 817.3 586.6C824.6 588.4 831.8 590.2 839.1 591.8C846.4 593.4 853.6 594.9 860.9 596.1C868.2 597.4 875.5 598.5 882.7 599.4C890 600.3 897.3 601.1 904.5 601.8C911.8 602.5 919.1 603.1 926.4 603.7C933.6 604.4 940.9 605 948.2 605.7C955.4 606.4 962.7 607.1 970 607.8C977.2 608.5 984.5 609.1 991.8 609.7C999.1 610.3 1006.3 610.8 1013.6 611.2C1020.9 611.7 1028.1 612.1 1035.4 612.5C1042.7 612.8 1050 613.2 1057.2 613.4C1064.5 613.7 1071.8 613.9 1079 614.1C1086.3 614.3 1093.6 614.5 1100.9 614.7C1108.1 614.8 1115.4 615 1122.7 615.1C1129.9 615.3 1137.2 615.5 1144.5 615.6C1151.8 615.8 1159 616 1166.3 616.3C1173.6 616.6 1180.8 616.8 1188.1 617.2C1195.4 617.5 1202.7 617.9 1209.9 618.3C1217.2 618.7 1224.5 619.1 1231.7 619.5C1239 619.9 1246.3 620.3 1253.6 620.6C1260.8 621 1268.1 621.3 1275.4 621.6C1282.6 621.9 1289.9 622.1 1297.2 622.3C1304.5 622.4 1311.7 622.5 1319 622.5L1319 624.5L293.8 624.5Z" fill="#131b42" fill-opacity="0.36"/>
<path d="M293.8 578.8C301 575.3 308.3 572.1 315.6 569.1C322.8 566 330.1 563.3 337.4 560.8C344.6 558.3 351.9 556.2 359.2 554.4C366.5 552.6 373.7 551.2 381 550.2C388.3 549.2 395.5 548.7 402.8 548.6C410.1 548.5 417.4 548.9 424.6 549.6C431.9 550.3 439.2 551.4 446.4 552.7C453.7 554 461 555.4 468.3 556.8C475.5 558.2 482.8 559.6 490.1 560.7C497.3 561.8 504.6 562.8 511.9 563.6C519.2 564.3 526.4 565 533.7 565.5C541 565.9 548.2 566.3 555.5 566.5C562.8 566.6 570.1 566.7 577.3 566.6C584.6 566.5 591.9 566.3 599.1 566C606.4 565.7 613.7 565.4 621 565C628.2 564.6 635.5 564.3 642.8 563.9C650 563.6 657.3 563.3 664.6 563.2C671.9 563.1 679.1 563 686.4 563.2C693.7 563.4 700.9 563.7 708.2 564.3C715.5 564.9 722.8 565.8 730 566.9C737.3 568 744.6 569.4 751.8 570.9C759.1 572.4 766.4 574 773.7 575.8C780.9 577.5 788.2 579.3 795.5 581.1C802.7 583 810 584.8 817.3 586.6C824.6 588.4 831.8 590.2 839.1 591.8C846.4 593.4 853.6 594.9 860.9 596.1C868.2 597.4 875.5 598.5 882.7 599.4C890 600.3 897.3 601.1 904.5 601.8C911.8 602.5 919.1 603.1 926.4 603.7C933.6 604.4 940.9 605 948.2 605.7C955.4 606.4 962.7 607.1 970 607.8C977.2 608.5 984.5 609.1 991.8 609.7C999.1 610.3 1006.3 610.8 1013.6 611.2C1020.9 611.7 1028.1 612.1 1035.4 612.5C1042.7 612.8 1050 613.2 1057.2 613.4C1064.5 613.7 1071.8 613.9 1079 614.1C1086.3 614.3 1093.6 614.5 1100.9 614.7C1108.1 614.8 1115.4 615 1122.7 615.1C1129.9 615.3 1137.2 615.5 1144.5 615.6C1151.8 615.8 1159 616 1166.3 616.3C1173.6 616.6 1180.8 616.8 1188.1 617.2C1195.4 617.5 1202.7 617.9 1209.9 618.3C1217.2 618.7 1224.5 619.1 1231.7 619.5C1239 619.9 1246.3 620.3 1253.6 620.6C1260.8 621 1268.1 621.3 1275.4 621.6C1282.6 621.9 1289.9 622.1 1297.2 622.3C1304.5 622.4 1311.7 622.5 1319 622.5" fill="none" stroke="#131b42" stroke-width="1.7" stroke-linecap="butt"/>
<g stroke="#131b42" stroke-opacity="0.40" stroke-width="3" fill="none">
<path d="M298.6 606.9v36.5M339.8 606.9v36.5M409.2 606.9v36.5M465.6 606.9v36.5M529 606.9v36.5M594.6 606.9v36.5M650.9 606.9v36.5M720.9 606.9v36.5M812.2 606.9v36.5M948.2 606.9v36.5M1135 606.9v36.5"/>
<path d="M300.4 606.9v36.5M365.6 606.9v36.5M409.8 606.9v36.5M468.4 606.9v36.5M543 606.9v36.5M604.2 606.9v36.5M689.8 606.9v36.5M737 606.9v36.5M828.1 606.9v36.5M955.3 606.9v36.5M1177.4 606.9v36.5"/>
<path d="M308.5 606.9v36.5M377.8 606.9v36.5M427.3 606.9v36.5M474 606.9v36.5M555.6 606.9v36.5M606.4 606.9v36.5M690.4 606.9v36.5M737.6 606.9v36.5M881.3 606.9v36.5M973.4 606.9v36.5M1283.9 606.9v36.5"/>
<path d="M314 606.9v36.5M382.8 606.9v36.5M434.7 606.9v36.5M476.8 606.9v36.5M560.3 606.9v36.5M620 606.9v36.5M700.7 606.9v36.5M747 606.9v36.5M892.7 606.9v36.5M1015.5 606.9v36.5M1317.5 606.9v36.5"/>
<path d="M327 606.9v36.5M395.5 606.9v36.5M445 606.9v36.5M518.5 606.9v36.5M584.6 606.9v36.5M629.4 606.9v36.5M704.3 606.9v36.5M761.1 606.9v36.5M900.6 606.9v36.5M1104.9 606.9v36.5"/>
<path d="M339.2 606.9v36.5M404 606.9v36.5M457.2 606.9v36.5M519.1 606.9v36.5M594 606.9v36.5M645.3 606.9v36.5M704.9 606.9v36.5M804 606.9v36.5M945.4 606.9v36.5M1116.7 606.9v36.5"/>
</g>
<path d="M293.8 563.8C301 557.9 308.3 552.5 315.6 547.8C322.8 543 330.1 538.8 337.4 535.2C344.6 531.6 351.9 528.6 359.2 526.3C366.5 523.9 373.7 522.2 381 521.1C388.3 519.9 395.5 519.4 402.8 519.4C410.1 519.5 417.4 520 424.6 521C431.9 522 439.2 523.4 446.4 525C453.7 526.7 461 528.6 468.3 530.8C475.5 532.9 482.8 535.2 490.1 537.7C497.3 540.1 504.6 542.7 511.9 545.3C519.2 547.9 526.4 550.6 533.7 553.3C541 556 548.2 558.7 555.5 561.3C562.8 563.9 570.1 566.5 577.3 568.9C584.6 571.3 591.9 573.6 599.1 575.7C606.4 577.8 613.7 579.6 621 581.3C628.2 582.9 635.5 584.2 642.8 585.3C650 586.4 657.3 587.3 664.6 588C671.9 588.7 679.1 589.2 686.4 589.7C693.7 590.2 700.9 590.6 708.2 590.9C715.5 591.3 722.8 591.6 730 591.9C737.3 592.2 744.6 592.5 751.8 592.9C759.1 593.2 766.4 593.5 773.7 593.9C780.9 594.3 788.2 594.7 795.5 595.2C802.7 595.7 810 596.3 817.3 596.9C824.6 597.6 831.8 598.3 839.1 599.1C846.4 599.8 853.6 600.7 860.9 601.5C868.2 602.4 875.5 603.2 882.7 604.1C890 605 897.3 605.9 904.5 606.7C911.8 607.6 919.1 608.5 926.4 609.3C933.6 610.1 940.9 610.9 948.2 611.6C955.4 612.3 962.7 613 970 613.6C977.2 614.2 984.5 614.8 991.8 615.3C999.1 615.8 1006.3 616.3 1013.6 616.8C1020.9 617.2 1028.1 617.6 1035.4 618C1042.7 618.4 1050 618.7 1057.2 619C1064.5 619.3 1071.8 619.6 1079 619.9C1086.3 620.1 1093.6 620.3 1100.9 620.5C1108.1 620.7 1115.4 620.9 1122.7 621C1129.9 621.2 1137.2 621.3 1144.5 621.4C1151.8 621.5 1159 621.6 1166.3 621.7C1173.6 621.7 1180.8 621.8 1188.1 621.9C1195.4 621.9 1202.7 622 1209.9 622C1217.2 622 1224.5 622.1 1231.7 622.1C1239 622.1 1246.3 622.1 1253.6 622.2C1260.8 622.2 1268.1 622.2 1275.4 622.2C1282.6 622.3 1289.9 622.3 1297.2 622.3C1304.5 622.4 1311.7 622.4 1319 622.5L1319 624.5L293.8 624.5Z" fill="#d55e00" fill-opacity="0.39"/>
<path d="M293.8 563.8C301 557.9 308.3 552.5 315.6 547.8C322.8 543 330.1 538.8 337.4 535.2C344.6 531.6 351.9 528.6 359.2 526.3C366.5 523.9 373.7 522.2 381 521.1C388.3 519.9 395.5 519.4 402.8 519.4C410.1 519.5 417.4 520 424.6 521C431.9 522 439.2 523.4 446.4 525C453.7 526.7 461 528.6 468.3 530.8C475.5 532.9 482.8 535.2 490.1 537.7C497.3 540.1 504.6 542.7 511.9 545.3C519.2 547.9 526.4 550.6 533.7 553.3C541 556 548.2 558.7 555.5 561.3C562.8 563.9 570.1 566.5 577.3 568.9C584.6 571.3 591.9 573.6 599.1 575.7C606.4 577.8 613.7 579.6 621 581.3C628.2 582.9 635.5 584.2 642.8 585.3C650 586.4 657.3 587.3 664.6 588C671.9 588.7 679.1 589.2 686.4 589.7C693.7 590.2 700.9 590.6 708.2 590.9C715.5 591.3 722.8 591.6 730 591.9C737.3 592.2 744.6 592.5 751.8 592.9C759.1 593.2 766.4 593.5 773.7 593.9C780.9 594.3 788.2 594.7 795.5 595.2C802.7 595.7 810 596.3 817.3 596.9C824.6 597.6 831.8 598.3 839.1 599.1C846.4 599.8 853.6 600.7 860.9 601.5C868.2 602.4 875.5 603.2 882.7 604.1C890 605 897.3 605.9 904.5 606.7C911.8 607.6 919.1 608.5 926.4 609.3C933.6 610.1 940.9 610.9 948.2 611.6C955.4 612.3 962.7 613 970 613.6C977.2 614.2 984.5 614.8 991.8 615.3C999.1 615.8 1006.3 616.3 1013.6 616.8C1020.9 617.2 1028.1 617.6 1035.4 618C1042.7 618.4 1050 618.7 1057.2 619C1064.5 619.3 1071.8 619.6 1079 619.9C1086.3 620.1 1093.6 620.3 1100.9 620.5C1108.1 620.7 1115.4 620.9 1122.7 621C1129.9 621.2 1137.2 621.3 1144.5 621.4C1151.8 621.5 1159 621.6 1166.3 621.7C1173.6 621.7 1180.8 621.8 1188.1 621.9C1195.4 621.9 1202.7 622 1209.9 622C1217.2 622 1224.5 622.1 1231.7 622.1C1239 622.1 1246.3 622.1 1253.6 622.2C1260.8 622.2 1268.1 622.2 1275.4 622.2C1282.6 622.3 1289.9 622.3 1297.2 622.3C1304.5 622.4 1311.7 622.4 1319 622.5" fill="none" stroke="#d55e00" stroke-width="1.7" stroke-linecap="butt"/>
<g stroke="#d55e00" stroke-opacity="0.44" stroke-width="3" fill="none">
<path d="M294 606.9v36.5M302.8 606.9v36.5M314.6 606.9v36.5M335.8 606.9v36.5M346.4 606.9v36.5M364.3 606.9v36.5M378.7 606.9v36.5M393 606.9v36.5M408 606.9v36.5M421.1 606.9v36.5M435.3 606.9v36.5M445 606.9v36.5M492.5 606.9v36.5M499.9 606.9v36.5M542.1 606.9v36.5M582.7 606.9v36.5M685.4 606.9v36.5M768.5 606.9v36.5M852.6 606.9v36.5M1156.3 606.9v36.5"/>
<path d="M294.3 606.9v36.5M306.8 606.9v36.5M318 606.9v36.5M337.6 606.9v36.5M347.2 606.9v36.5M365.5 606.9v36.5M388.6 606.9v36.5M393.8 606.9v36.5M411 606.9v36.5M423.7 606.9v36.5M438.1 606.9v36.5M461.3 606.9v36.5M495.1 606.9v36.5M508.9 606.9v36.5M550.7 606.9v36.5M596.7 606.9v36.5M715.3 606.9v36.5M779.7 606.9v36.5M900.6 606.9v36.5M1318 606.9v36.5"/>
<path d="M295.2 606.9v36.5M308.7 606.9v36.5M320.8 606.9v36.5M341.4 606.9v36.5M348 606.9v36.5M367 606.9v36.5M389.2 606.9v36.5M400.6 606.9v36.5M411.8 606.9v36.5M424.5 606.9v36.5M439 606.9v36.5M464.3 606.9v36.5M496.3 606.9v36.5M511.9 606.9v36.5M559.3 606.9v36.5M623.4 606.9v36.5M720.9 606.9v36.5M800.3 606.9v36.5M906.6 606.9v36.5"/>
<path d="M300.3 606.9v36.5M312 606.9v36.5M323.6 606.9v36.5M344.2 606.9v36.5M348.6 606.9v36.5M368.3 606.9v36.5M390.5 606.9v36.5M401.3 606.9v36.5M413 606.9v36.5M426.5 606.9v36.5M440 606.9v36.5M478.1 606.9v36.5M497.3 606.9v36.5M514.7 606.9v36.5M565.3 606.9v36.5M635.5 606.9v36.5M728.7 606.9v36.5M840.8 606.9v36.5M968.8 606.9v36.5"/>
<path d="M301 606.9v36.5M313 606.9v36.5M326.4 606.9v36.5M344.8 606.9v36.5M349.2 606.9v36.5M369.9 606.9v36.5M391.2 606.9v36.5M402.1 606.9v36.5M413.6 606.9v36.5M428.5 606.9v36.5M441 606.9v36.5M480.3 606.9v36.5M498.4 606.9v36.5M524.8 606.9v36.5M580 606.9v36.5M661.5 606.9v36.5M734 606.9v36.5M843.2 606.9v36.5M998.6 606.9v36.5"/>
<path d="M302.1 606.9v36.5M313.9 606.9v36.5M328.3 606.9v36.5M345.7 606.9v36.5M360 606.9v36.5M375 606.9v36.5M392.4 606.9v36.5M405.4 606.9v36.5M418.5 606.9v36.5M431.4 606.9v36.5M441.8 606.9v36.5M490.2 606.9v36.5M499.6 606.9v36.5M527.8 606.9v36.5M581.4 606.9v36.5M675.5 606.9v36.5M754.5 606.9v36.5M846.4 606.9v36.5M1018.3 606.9v36.5"/>
</g>
</g>
<g>
<path d="M293.8 816.8C301 815.8 308.3 815 315.6 814.4C322.8 813.9 330.1 813.5 337.4 813.2C344.6 813 351.9 812.9 359.2 812.9C366.5 812.9 373.7 813 381 813.2C388.3 813.4 395.5 813.7 402.8 814C410.1 814.3 417.4 814.6 424.6 814.9C431.9 815.2 439.2 815.5 446.4 815.8C453.7 816 461 816.2 468.3 816.4C475.5 816.5 482.8 816.6 490.1 816.6C497.3 816.7 504.6 816.7 511.9 816.6C519.2 816.6 526.4 816.5 533.7 816.4C541 816.3 548.2 816.1 555.5 816C562.8 815.8 570.1 815.6 577.3 815.4C584.6 815.3 591.9 815.1 599.1 814.9C606.4 814.7 613.7 814.5 621 814.2C628.2 814 635.5 813.8 642.8 813.5C650 813.2 657.3 812.8 664.6 812.4C671.9 811.9 679.1 811.3 686.4 810.7C693.7 810 700.9 809.2 708.2 808.4C715.5 807.7 722.8 806.9 730 806.1C737.3 805.4 744.6 804.7 751.8 804.1C759.1 803.5 766.4 803 773.7 802.5C780.9 802 788.2 801.5 795.5 801.2C802.7 800.8 810 800.5 817.3 800.3C824.6 800 831.8 799.9 839.1 799.8C846.4 799.6 853.6 799.5 860.9 799.3C868.2 799.1 875.5 798.7 882.7 798.2C890 797.7 897.3 797 904.5 796.2C911.8 795.3 919.1 794.4 926.4 793.4C933.6 792.4 940.9 791.3 948.2 790.2C955.4 789.1 962.7 788 970 786.9C977.2 785.9 984.5 784.9 991.8 783.9C999.1 783 1006.3 782.1 1013.6 781.3C1020.9 780.4 1028.1 779.6 1035.4 778.9C1042.7 778.2 1050 777.5 1057.2 776.8C1064.5 776.2 1071.8 775.6 1079 775C1086.3 774.5 1093.6 773.9 1100.9 773.4C1108.1 772.9 1115.4 772.4 1122.7 772C1129.9 771.6 1137.2 771.2 1144.5 770.9C1151.8 770.6 1159 770.3 1166.3 770.2C1173.6 770 1180.8 769.9 1188.1 769.9C1195.4 769.9 1202.7 770 1209.9 770.2C1217.2 770.5 1224.5 770.8 1231.7 771.3C1239 771.7 1246.3 772.3 1253.6 773.1C1260.8 773.8 1268.1 774.8 1275.4 776.1C1282.6 777.5 1289.9 779.1 1297.2 781.2C1304.5 783.2 1311.7 785.7 1319 788.8L1319 834.1L293.8 834.1Z" fill="#3a77ba" fill-opacity="0.36"/>
<path d="M293.8 816.8C301 815.8 308.3 815 315.6 814.4C322.8 813.9 330.1 813.5 337.4 813.2C344.6 813 351.9 812.9 359.2 812.9C366.5 812.9 373.7 813 381 813.2C388.3 813.4 395.5 813.7 402.8 814C410.1 814.3 417.4 814.6 424.6 814.9C431.9 815.2 439.2 815.5 446.4 815.8C453.7 816 461 816.2 468.3 816.4C475.5 816.5 482.8 816.6 490.1 816.6C497.3 816.7 504.6 816.7 511.9 816.6C519.2 816.6 526.4 816.5 533.7 816.4C541 816.3 548.2 816.1 555.5 816C562.8 815.8 570.1 815.6 577.3 815.4C584.6 815.3 591.9 815.1 599.1 814.9C606.4 814.7 613.7 814.5 621 814.2C628.2 814 635.5 813.8 642.8 813.5C650 813.2 657.3 812.8 664.6 812.4C671.9 811.9 679.1 811.3 686.4 810.7C693.7 810 700.9 809.2 708.2 808.4C715.5 807.7 722.8 806.9 730 806.1C737.3 805.4 744.6 804.7 751.8 804.1C759.1 803.5 766.4 803 773.7 802.5C780.9 802 788.2 801.5 795.5 801.2C802.7 800.8 810 800.5 817.3 800.3C824.6 800 831.8 799.9 839.1 799.8C846.4 799.6 853.6 799.5 860.9 799.3C868.2 799.1 875.5 798.7 882.7 798.2C890 797.7 897.3 797 904.5 796.2C911.8 795.3 919.1 794.4 926.4 793.4C933.6 792.4 940.9 791.3 948.2 790.2C955.4 789.1 962.7 788 970 786.9C977.2 785.9 984.5 784.9 991.8 783.9C999.1 783 1006.3 782.1 1013.6 781.3C1020.9 780.4 1028.1 779.6 1035.4 778.9C1042.7 778.2 1050 777.5 1057.2 776.8C1064.5 776.2 1071.8 775.6 1079 775C1086.3 774.5 1093.6 773.9 1100.9 773.4C1108.1 772.9 1115.4 772.4 1122.7 772C1129.9 771.6 1137.2 771.2 1144.5 770.9C1151.8 770.6 1159 770.3 1166.3 770.2C1173.6 770 1180.8 769.9 1188.1 769.9C1195.4 769.9 1202.7 770 1209.9 770.2C1217.2 770.5 1224.5 770.8 1231.7 771.3C1239 771.7 1246.3 772.3 1253.6 773.1C1260.8 773.8 1268.1 774.8 1275.4 776.1C1282.6 777.5 1289.9 779.1 1297.2 781.2C1304.5 783.2 1311.7 785.7 1319 788.8" fill="none" stroke="#3a77ba" stroke-width="1.7" stroke-linecap="butt"/>
<g stroke="#3a77ba" stroke-opacity="0.41" stroke-width="3" fill="none">
<path d="M302.7 816.5v36.5M402.6 816.5v36.5M571.5 816.5v36.5M725.6 816.5v36.5M849.2 816.5v36.5M996.8 816.5v36.5M1048.1 816.5v36.5M1143.8 816.5v36.5M1205.4 816.5v36.5M1250.2 816.5v36.5M1299.4 816.5v36.5"/>
<path d="M316.1 816.5v36.5M426.9 816.5v36.5M590.2 816.5v36.5M759.2 816.5v36.5M863.2 816.5v36.5M1009.5 816.5v36.5M1060.3 816.5v36.5M1150.3 816.5v36.5M1215.7 816.5v36.5M1258.6 816.5v36.5M1306.3 816.5v36.5"/>
<path d="M331.5 816.5v36.5M443.2 816.5v36.5M649.6 816.5v36.5M769.5 816.5v36.5M913.7 816.5v36.5M1018.3 816.5v36.5M1075.6 816.5v36.5M1153.1 816.5v36.5M1218.5 816.5v36.5M1268.9 816.5v36.5M1309.1 816.5v36.5"/>
<path d="M336.3 816.5v36.5M466.5 816.5v36.5M693.8 816.5v36.5M812.8 816.5v36.5M931.4 816.5v36.5M1023.9 816.5v36.5M1095.8 816.5v36.5M1156.9 816.5v36.5M1225 816.5v36.5M1271.7 816.5v36.5M1311.3 816.5v36.5"/>
<path d="M359.1 816.5v36.5M544 816.5v36.5M696.1 816.5v36.5M821.2 816.5v36.5M960.4 816.5v36.5M1036 816.5v36.5M1113 816.5v36.5M1175.5 816.5v36.5M1227.8 816.5v36.5M1282.9 816.5v36.5M1315.6 816.5v36.5"/>
<path d="M400.2 816.5v36.5M566.8 816.5v36.5M707.8 816.5v36.5M838 816.5v36.5M975.3 816.5v36.5M1039.7 816.5v36.5M1130.7 816.5v36.5M1178.3 816.5v36.5M1240.9 816.5v36.5M1296.9 816.5v36.5M1318 816.5v36.5"/>
</g>
<path d="M376.2 832.5C383.6 832.2 390.9 831.8 398.2 831.4C405.5 831 412.8 830.5 420.1 830C427.4 829.5 434.7 829 442 828.5C449.3 828 456.6 827.4 463.9 826.9C471.3 826.3 478.6 825.8 485.9 825.3C493.2 824.7 500.5 824.2 507.8 823.7C515.1 823.2 522.4 822.7 529.7 822.2C537 821.7 544.3 821.3 551.6 820.9C559 820.5 566.3 820.1 573.6 819.7C580.9 819.3 588.2 818.9 595.5 818.4C602.8 817.9 610.1 817.2 617.4 816.1C624.7 815 632 813.5 639.3 811.5C646.7 809.4 654 807 661.3 804.1C668.6 801.2 675.9 797.8 683.2 794.2C690.5 790.5 697.8 786.5 705.1 782.2C712.4 777.8 719.7 773.2 727 768.5C734.3 763.8 741.7 759.1 749 754.4C756.3 749.7 763.6 745.1 770.9 740.9C778.2 736.6 785.5 732.7 792.8 729.2C800.1 725.8 807.4 722.8 814.7 720.5C822 718.2 829.4 716.6 836.7 715.5C844 714.5 851.3 714.1 858.6 714.4C865.9 714.6 873.2 715.6 880.5 717.2C887.8 718.9 895.1 721.2 902.4 724C909.7 726.8 917.1 730.1 924.4 733.7C931.7 737.3 939 741.2 946.3 745.2C953.6 749.2 960.9 753.3 968.2 757.3C975.5 761.4 982.8 765.3 990.1 769C997.4 772.8 1004.8 776.3 1012.1 779.7C1019.4 783 1026.7 786.1 1034 788.9C1041.3 791.7 1048.6 794.3 1055.9 796.5C1063.2 798.7 1070.5 800.6 1077.8 802.2C1085.1 803.8 1092.4 805.2 1099.8 806.4C1107.1 807.6 1114.4 808.5 1121.7 809.4C1129 810.2 1136.3 810.9 1143.6 811.5C1150.9 812.1 1158.2 812.6 1165.5 813.1C1172.8 813.6 1180.1 814.1 1187.5 814.6C1194.8 815 1202.1 815.5 1209.4 816C1216.7 816.5 1224 817 1231.3 817.6C1238.6 818.1 1245.9 818.7 1253.2 819.4C1260.5 820 1267.8 820.7 1275.2 821.4C1282.5 822.2 1289.8 823 1297.1 823.9C1304.4 824.7 1311.7 825.7 1319 826.8L1319 834.1L376.2 834.1Z" fill="#131b42" fill-opacity="0.36"/>
<path d="M376.2 832.5C383.6 832.2 390.9 831.8 398.2 831.4C405.5 831 412.8 830.5 420.1 830C427.4 829.5 434.7 829 442 828.5C449.3 828 456.6 827.4 463.9 826.9C471.3 826.3 478.6 825.8 485.9 825.3C493.2 824.7 500.5 824.2 507.8 823.7C515.1 823.2 522.4 822.7 529.7 822.2C537 821.7 544.3 821.3 551.6 820.9C559 820.5 566.3 820.1 573.6 819.7C580.9 819.3 588.2 818.9 595.5 818.4C602.8 817.9 610.1 817.2 617.4 816.1C624.7 815 632 813.5 639.3 811.5C646.7 809.4 654 807 661.3 804.1C668.6 801.2 675.9 797.8 683.2 794.2C690.5 790.5 697.8 786.5 705.1 782.2C712.4 777.8 719.7 773.2 727 768.5C734.3 763.8 741.7 759.1 749 754.4C756.3 749.7 763.6 745.1 770.9 740.9C778.2 736.6 785.5 732.7 792.8 729.2C800.1 725.8 807.4 722.8 814.7 720.5C822 718.2 829.4 716.6 836.7 715.5C844 714.5 851.3 714.1 858.6 714.4C865.9 714.6 873.2 715.6 880.5 717.2C887.8 718.9 895.1 721.2 902.4 724C909.7 726.8 917.1 730.1 924.4 733.7C931.7 737.3 939 741.2 946.3 745.2C953.6 749.2 960.9 753.3 968.2 757.3C975.5 761.4 982.8 765.3 990.1 769C997.4 772.8 1004.8 776.3 1012.1 779.7C1019.4 783 1026.7 786.1 1034 788.9C1041.3 791.7 1048.6 794.3 1055.9 796.5C1063.2 798.7 1070.5 800.6 1077.8 802.2C1085.1 803.8 1092.4 805.2 1099.8 806.4C1107.1 807.6 1114.4 808.5 1121.7 809.4C1129 810.2 1136.3 810.9 1143.6 811.5C1150.9 812.1 1158.2 812.6 1165.5 813.1C1172.8 813.6 1180.1 814.1 1187.5 814.6C1194.8 815 1202.1 815.5 1209.4 816C1216.7 816.5 1224 817 1231.3 817.6C1238.6 818.1 1245.9 818.7 1253.2 819.4C1260.5 820 1267.8 820.7 1275.2 821.4C1282.5 822.2 1289.8 823 1297.1 823.9C1304.4 824.7 1311.7 825.7 1319 826.8" fill="none" stroke="#131b42" stroke-width="1.7" stroke-linecap="butt"/>
<g stroke="#131b42" stroke-opacity="0.40" stroke-width="3" fill="none">
<path d="M515.6 816.5v36.5M719.6 816.5v36.5M770.4 816.5v36.5M799.3 816.5v36.5M828 816.5v36.5M863.2 816.5v36.5M893.1 816.5v36.5M929.3 816.5v36.5M959.4 816.5v36.5M1041.6 816.5v36.5M1205.4 816.5v36.5"/>
<path d="M557.8 816.5v36.5M724.6 816.5v36.5M777 816.5v36.5M803.1 816.5v36.5M828.6 816.5v36.5M867.9 816.5v36.5M895.2 816.5v36.5M934.2 816.5v36.5M966.9 816.5v36.5M1048.7 816.5v36.5M1212.3 816.5v36.5"/>
<path d="M573.3 816.5v36.5M734.6 816.5v36.5M779.8 816.5v36.5M806.8 816.5v36.5M836.1 816.5v36.5M872.6 816.5v36.5M895.8 816.5v36.5M941.9 816.5v36.5M976.2 816.5v36.5M1073.4 816.5v36.5M1217.6 816.5v36.5"/>
<path d="M594.8 816.5v36.5M735.2 816.5v36.5M782.5 816.5v36.5M811.9 816.5v36.5M838 816.5v36.5M875.4 816.5v36.5M902.5 816.5v36.5M942.5 816.5v36.5M980 816.5v36.5M1078.4 816.5v36.5M1234.7 816.5v36.5"/>
<path d="M613.9 816.5v36.5M742.4 816.5v36.5M785.3 816.5v36.5M819.3 816.5v36.5M848.3 816.5v36.5M877.6 816.5v36.5M903.1 816.5v36.5M947.9 816.5v36.5M992.1 816.5v36.5M1124.7 816.5v36.5M1278.8 816.5v36.5"/>
<path d="M686.3 816.5v36.5M764.8 816.5v36.5M790 816.5v36.5M824.6 816.5v36.5M853.9 816.5v36.5M885.6 816.5v36.5M928.7 816.5v36.5M948.5 816.5v36.5M997.3 816.5v36.5M1144.7 816.5v36.5M1288.2 816.5v36.5"/>
</g>
<path d="M293.8 800C301.1 798 308.5 796.3 315.9 794.8C323.3 793.4 330.6 792.1 338 791C345.4 790 352.8 789.1 360.2 788.2C367.5 787.4 374.9 786.7 382.3 786.1C389.7 785.5 397 784.9 404.4 784.3C411.8 783.7 419.2 783.1 426.6 782.4C433.9 781.8 441.3 781 448.7 780.2C456.1 779.4 463.4 778.5 470.8 777.6C478.2 776.7 485.6 775.9 493 775.2C500.3 774.4 507.7 773.8 515.1 773.5C522.5 773.1 529.8 772.9 537.2 773.1C544.6 773.2 552 773.7 559.4 774.3C566.7 774.9 574.1 775.7 581.5 776.6C588.9 777.5 596.2 778.6 603.6 779.6C611 780.7 618.4 781.8 625.8 782.9C633.1 784 640.5 785 647.9 785.9C655.3 786.8 662.6 787.6 670 788.3C677.4 788.9 684.8 789.3 692.2 789.6C699.5 790 706.9 790.1 714.3 790.2C721.7 790.2 729 790.1 736.4 789.9C743.8 789.8 751.2 789.5 758.6 789.1C765.9 788.8 773.3 788.4 780.7 787.9C788.1 787.4 795.4 786.9 802.8 786.4C810.2 785.9 817.6 785.3 825 784.8C832.3 784.3 839.7 783.8 847.1 783.4C854.5 782.9 861.8 782.6 869.2 782.3C876.6 782 884 781.9 891.4 781.8C898.7 781.8 906.1 781.9 913.5 782.1C920.9 782.4 928.3 782.9 935.6 783.5C943 784.1 950.4 785 957.8 786C965.1 787.1 972.5 788.3 979.9 789.6C987.3 791 994.7 792.5 1002 794C1009.4 795.6 1016.8 797.2 1024.2 798.9C1031.5 800.6 1038.9 802.3 1046.3 804C1053.7 805.7 1061.1 807.4 1068.4 809.1C1075.8 810.7 1083.2 812.3 1090.6 813.8C1097.9 815.4 1105.3 816.9 1112.7 818.3C1120.1 819.7 1127.5 821 1134.8 822.2C1142.2 823.4 1149.6 824.5 1157 825.4C1164.3 826.4 1171.7 827.2 1179.1 827.9C1186.5 828.6 1193.9 829.2 1201.2 829.8C1208.6 830.3 1216 830.8 1223.4 831.2C1230.7 831.6 1238.1 832.1 1245.5 832.5L1245.5 834.1L293.8 834.1Z" fill="#d55e00" fill-opacity="0.39"/>
<path d="M293.8 800C301.1 798 308.5 796.3 315.9 794.8C323.3 793.4 330.6 792.1 338 791C345.4 790 352.8 789.1 360.2 788.2C367.5 787.4 374.9 786.7 382.3 786.1C389.7 785.5 397 784.9 404.4 784.3C411.8 783.7 419.2 783.1 426.6 782.4C433.9 781.8 441.3 781 448.7 780.2C456.1 779.4 463.4 778.5 470.8 777.6C478.2 776.7 485.6 775.9 493 775.2C500.3 774.4 507.7 773.8 515.1 773.5C522.5 773.1 529.8 772.9 537.2 773.1C544.6 773.2 552 773.7 559.4 774.3C566.7 774.9 574.1 775.7 581.5 776.6C588.9 777.5 596.2 778.6 603.6 779.6C611 780.7 618.4 781.8 625.8 782.9C633.1 784 640.5 785 647.9 785.9C655.3 786.8 662.6 787.6 670 788.3C677.4 788.9 684.8 789.3 692.2 789.6C699.5 790 706.9 790.1 714.3 790.2C721.7 790.2 729 790.1 736.4 789.9C743.8 789.8 751.2 789.5 758.6 789.1C765.9 788.8 773.3 788.4 780.7 787.9C788.1 787.4 795.4 786.9 802.8 786.4C810.2 785.9 817.6 785.3 825 784.8C832.3 784.3 839.7 783.8 847.1 783.4C854.5 782.9 861.8 782.6 869.2 782.3C876.6 782 884 781.9 891.4 781.8C898.7 781.8 906.1 781.9 913.5 782.1C920.9 782.4 928.3 782.9 935.6 783.5C943 784.1 950.4 785 957.8 786C965.1 787.1 972.5 788.3 979.9 789.6C987.3 791 994.7 792.5 1002 794C1009.4 795.6 1016.8 797.2 1024.2 798.9C1031.5 800.6 1038.9 802.3 1046.3 804C1053.7 805.7 1061.1 807.4 1068.4 809.1C1075.8 810.7 1083.2 812.3 1090.6 813.8C1097.9 815.4 1105.3 816.9 1112.7 818.3C1120.1 819.7 1127.5 821 1134.8 822.2C1142.2 823.4 1149.6 824.5 1157 825.4C1164.3 826.4 1171.7 827.2 1179.1 827.9C1186.5 828.6 1193.9 829.2 1201.2 829.8C1208.6 830.3 1216 830.8 1223.4 831.2C1230.7 831.6 1238.1 832.1 1245.5 832.5" fill="none" stroke="#d55e00" stroke-width="1.7" stroke-linecap="butt"/>
<g stroke="#d55e00" stroke-opacity="0.44" stroke-width="3" fill="none">
<path d="M294.4 816.5v36.5M324.6 816.5v36.5M378.7 816.5v36.5M458.1 816.5v36.5M506.7 816.5v36.5M548.7 816.5v36.5M594.3 816.5v36.5M631.6 816.5v36.5M705.9 816.5v36.5M772.3 816.5v36.5M845.5 816.5v36.5M906.2 816.5v36.5M969.7 816.5v36.5M1029.5 816.5v36.5"/>
<path d="M295 816.5v36.5M329.2 816.5v36.5M386.6 816.5v36.5M481.4 816.5v36.5M510.4 816.5v36.5M551 816.5v36.5M598.9 816.5v36.5M639.3 816.5v36.5M728.4 816.5v36.5M796.5 816.5v36.5M855.8 816.5v36.5M920.6 816.5v36.5M973.4 816.5v36.5M1044.4 816.5v36.5"/>
<path d="M301.2 816.5v36.5M341.4 816.5v36.5M417.4 816.5v36.5M483.4 816.5v36.5M519.4 816.5v36.5M559.3 816.5v36.5M606 816.5v36.5M643.9 816.5v36.5M738.6 816.5v36.5M816.2 816.5v36.5M858.9 816.5v36.5M936.1 816.5v36.5M987.4 816.5v36.5M1065 816.5v36.5"/>
<path d="M314.7 816.5v36.5M344.2 816.5v36.5M440.4 816.5v36.5M484 816.5v36.5M529.6 816.5v36.5M562.1 816.5v36.5M621.9 816.5v36.5M671.4 816.5v36.5M741.4 816.5v36.5M823.1 816.5v36.5M869.8 816.5v36.5M952.9 816.5v36.5M1002.4 816.5v36.5M1090.5 816.5v36.5"/>
<path d="M318.7 816.5v36.5M352 816.5v36.5M442.8 816.5v36.5M488.4 816.5v36.5M537.5 816.5v36.5M575.8 816.5v36.5M623.8 816.5v36.5M683.5 816.5v36.5M748 816.5v36.5M833.3 816.5v36.5M880 816.5v36.5M955.7 816.5v36.5M1006.7 816.5v36.5M1111.1 816.5v36.5"/>
<path d="M319.3 816.5v36.5M356.9 816.5v36.5M450.3 816.5v36.5M495.5 816.5v36.5M540.3 816.5v36.5M586.4 816.5v36.5M624.4 816.5v36.5M705.3 816.5v36.5M754.5 816.5v36.5M839.9 816.5v36.5M889.4 816.5v36.5M958.5 816.5v36.5M1007.3 816.5v36.5M1168.6 816.5v36.5"/>
</g>
</g>
<g>
<path d="M293.8 1035.5C301 1034.5 308.3 1033.6 315.6 1032.8C322.8 1032 330.1 1031.3 337.4 1030.7C344.6 1030.1 351.9 1029.7 359.2 1029.3C366.5 1028.9 373.7 1028.6 381 1028.4C388.3 1028.1 395.5 1028 402.8 1027.9C410.1 1027.8 417.4 1027.8 424.6 1027.8C431.9 1027.8 439.2 1027.9 446.4 1028C453.7 1028.1 461 1028.2 468.3 1028.3C475.5 1028.5 482.8 1028.6 490.1 1028.8C497.3 1029 504.6 1029.2 511.9 1029.3C519.2 1029.5 526.4 1029.7 533.7 1029.8C541 1029.9 548.2 1030 555.5 1030.1C562.8 1030.2 570.1 1030.2 577.3 1030.2C584.6 1030.2 591.9 1030.2 599.1 1030.1C606.4 1029.9 613.7 1029.8 621 1029.6C628.2 1029.3 635.5 1029.1 642.8 1028.7C650 1028.4 657.3 1028 664.6 1027.5C671.9 1027 679.1 1026.5 686.4 1025.9C693.7 1025.3 700.9 1024.6 708.2 1023.9C715.5 1023.2 722.8 1022.4 730 1021.5C737.3 1020.6 744.6 1019.6 751.8 1018.6C759.1 1017.6 766.4 1016.5 773.7 1015.4C780.9 1014.3 788.2 1013.1 795.5 1011.9C802.7 1010.7 810 1009.5 817.3 1008.3C824.6 1007 831.8 1005.7 839.1 1004.4C846.4 1003.2 853.6 1001.9 860.9 1000.6C868.2 999.3 875.5 998 882.7 996.7C890 995.5 897.3 994.2 904.5 993C911.8 991.8 919.1 990.6 926.4 989.5C933.6 988.4 940.9 987.3 948.2 986.3C955.4 985.3 962.7 984.4 970 983.6C977.2 982.8 984.5 982 991.8 981.3C999.1 980.7 1006.3 980.1 1013.6 979.5C1020.9 979 1028.1 978.5 1035.4 977.9C1042.7 977.4 1050 976.9 1057.2 976.4C1064.5 975.9 1071.8 975.3 1079 974.7C1086.3 974.2 1093.6 973.5 1100.9 972.9C1108.1 972.3 1115.4 971.6 1122.7 971.1C1129.9 970.6 1137.2 970.1 1144.5 969.7C1151.8 969.4 1159 969.1 1166.3 969.1C1173.6 969 1180.8 969.2 1188.1 969.6C1195.4 969.9 1202.7 970.6 1209.9 971.5C1217.2 972.4 1224.5 973.7 1231.7 975.2C1239 976.8 1246.3 978.7 1253.6 981C1260.8 983.2 1268.1 985.7 1275.4 988.5C1282.6 991.3 1289.9 994.3 1297.2 997.6C1304.5 1000.8 1311.7 1004.3 1319 1008L1319 1043.7L293.8 1043.7Z" fill="#3a77ba" fill-opacity="0.36"/>
<path d="M293.8 1035.5C301 1034.5 308.3 1033.6 315.6 1032.8C322.8 1032 330.1 1031.3 337.4 1030.7C344.6 1030.1 351.9 1029.7 359.2 1029.3C366.5 1028.9 373.7 1028.6 381 1028.4C388.3 1028.1 395.5 1028 402.8 1027.9C410.1 1027.8 417.4 1027.8 424.6 1027.8C431.9 1027.8 439.2 1027.9 446.4 1028C453.7 1028.1 461 1028.2 468.3 1028.3C475.5 1028.5 482.8 1028.6 490.1 1028.8C497.3 1029 504.6 1029.2 511.9 1029.3C519.2 1029.5 526.4 1029.7 533.7 1029.8C541 1029.9 548.2 1030 555.5 1030.1C562.8 1030.2 570.1 1030.2 577.3 1030.2C584.6 1030.2 591.9 1030.2 599.1 1030.1C606.4 1029.9 613.7 1029.8 621 1029.6C628.2 1029.3 635.5 1029.1 642.8 1028.7C650 1028.4 657.3 1028 664.6 1027.5C671.9 1027 679.1 1026.5 686.4 1025.9C693.7 1025.3 700.9 1024.6 708.2 1023.9C715.5 1023.2 722.8 1022.4 730 1021.5C737.3 1020.6 744.6 1019.6 751.8 1018.6C759.1 1017.6 766.4 1016.5 773.7 1015.4C780.9 1014.3 788.2 1013.1 795.5 1011.9C802.7 1010.7 810 1009.5 817.3 1008.3C824.6 1007 831.8 1005.7 839.1 1004.4C846.4 1003.2 853.6 1001.9 860.9 1000.6C868.2 999.3 875.5 998 882.7 996.7C890 995.5 897.3 994.2 904.5 993C911.8 991.8 919.1 990.6 926.4 989.5C933.6 988.4 940.9 987.3 948.2 986.3C955.4 985.3 962.7 984.4 970 983.6C977.2 982.8 984.5 982 991.8 981.3C999.1 980.7 1006.3 980.1 1013.6 979.5C1020.9 979 1028.1 978.5 1035.4 977.9C1042.7 977.4 1050 976.9 1057.2 976.4C1064.5 975.9 1071.8 975.3 1079 974.7C1086.3 974.2 1093.6 973.5 1100.9 972.9C1108.1 972.3 1115.4 971.6 1122.7 971.1C1129.9 970.6 1137.2 970.1 1144.5 969.7C1151.8 969.4 1159 969.1 1166.3 969.1C1173.6 969 1180.8 969.2 1188.1 969.6C1195.4 969.9 1202.7 970.6 1209.9 971.5C1217.2 972.4 1224.5 973.7 1231.7 975.2C1239 976.8 1246.3 978.7 1253.6 981C1260.8 983.2 1268.1 985.7 1275.4 988.5C1282.6 991.3 1289.9 994.3 1297.2 997.6C1304.5 1000.8 1311.7 1004.3 1319 1008" fill="none" stroke="#3a77ba" stroke-width="1.7" stroke-linecap="butt"/>
<g stroke="#3a77ba" stroke-opacity="0.41" stroke-width="3" fill="none">
<path d="M295.6 1026.1v36.5M407.3 1026.1v36.5M548.7 1026.1v36.5M732.6 1026.1v36.5M826.3 1026.1v36.5M868.8 1026.1v36.5M897.9 1026.1v36.5M920.1 1026.1v36.5M940 1026.1v36.5M979 1026.1v36.5M1000.8 1026.1v36.5M1019.2 1026.1v36.5M1036.4 1026.1v36.5M1064.8 1026.1v36.5M1086 1026.1v36.5M1097.9 1026.1v36.5M1126.9 1026.1v36.5M1139.9 1026.1v36.5M1161.8 1026.1v36.5M1178.3 1026.1v36.5M1196.3 1026.1v36.5M1217.3 1026.1v36.5M1232.2 1026.1v36.5M1250 1026.1v36.5M1291 1026.1v36.5"/>
<path d="M299.7 1026.1v36.5M411.4 1026.1v36.5M577.6 1026.1v36.5M735.2 1026.1v36.5M828.5 1026.1v36.5M870 1026.1v36.5M902 1026.1v36.5M925.2 1026.1v36.5M952.5 1026.1v36.5M984.7 1026.1v36.5M1001.3 1026.1v36.5M1023.9 1026.1v36.5M1041.5 1026.1v36.5M1072.8 1026.1v36.5M1088.6 1026.1v36.5M1106.3 1026.1v36.5M1128 1026.1v36.5M1143.4 1026.1v36.5M1167.4 1026.1v36.5M1185.3 1026.1v36.5M1201.9 1026.1v36.5M1218.2 1026.1v36.5M1235.5 1026.1v36.5M1258 1026.1v36.5M1293.5 1026.1v36.5"/>
<path d="M314.3 1026.1v36.5M421.7 1026.1v36.5M660.8 1026.1v36.5M751.4 1026.1v36.5M833.1 1026.1v36.5M877 1026.1v36.5M902.8 1026.1v36.5M930.2 1026.1v36.5M959.2 1026.1v36.5M986.4 1026.1v36.5M1005 1026.1v36.5M1026.1 1026.1v36.5M1047.7 1026.1v36.5M1073.8 1026.1v36.5M1090.6 1026.1v36.5M1109.2 1026.1v36.5M1131.8 1026.1v36.5M1144.6 1026.1v36.5M1169.4 1026.1v36.5M1185.6 1026.1v36.5M1205.6 1026.1v36.5M1220.9 1026.1v36.5M1240.5 1026.1v36.5M1259.5 1026.1v36.5M1308 1026.1v36.5"/>
<path d="M365.1 1026.1v36.5M429.7 1026.1v36.5M677.1 1026.1v36.5M760.2 1026.1v36.5M855.9 1026.1v36.5M877.1 1026.1v36.5M908.2 1026.1v36.5M932.2 1026.1v36.5M966.1 1026.1v36.5M995.8 1026.1v36.5M1008.3 1026.1v36.5M1027.8 1026.1v36.5M1053.8 1026.1v36.5M1076.4 1026.1v36.5M1093.6 1026.1v36.5M1111.3 1026.1v36.5M1133.3 1026.1v36.5M1151.1 1026.1v36.5M1170 1026.1v36.5M1188.4 1026.1v36.5M1207 1026.1v36.5M1221.5 1026.1v36.5M1242.5 1026.1v36.5M1259.8 1026.1v36.5M1310.5 1026.1v36.5"/>
<path d="M375 1026.1v36.5M516.9 1026.1v36.5M692.5 1026.1v36.5M772.2 1026.1v36.5M858.1 1026.1v36.5M881.3 1026.1v36.5M910.8 1026.1v36.5M939.8 1026.1v36.5M973.5 1026.1v36.5M996.7 1026.1v36.5M1009.4 1026.1v36.5M1031.5 1026.1v36.5M1054.5 1026.1v36.5M1078.4 1026.1v36.5M1097.7 1026.1v36.5M1118.2 1026.1v36.5M1135.1 1026.1v36.5M1153.2 1026.1v36.5M1174.7 1026.1v36.5M1192.1 1026.1v36.5M1216.8 1026.1v36.5M1229.9 1026.1v36.5M1243 1026.1v36.5M1261.8 1026.1v36.5M1318.4 1026.1v36.5"/>
<path d="M394.6 1026.1v36.5M520.7 1026.1v36.5M723 1026.1v36.5M796.9 1026.1v36.5M865.7 1026.1v36.5M887 1026.1v36.5M914.8 1026.1v36.5M939.9 1026.1v36.5M977.2 1026.1v36.5M997.6 1026.1v36.5M1011.4 1026.1v36.5M1035.8 1026.1v36.5M1059.6 1026.1v36.5M1082.7 1026.1v36.5M1097.9 1026.1v36.5M1121.7 1026.1v36.5M1138.8 1026.1v36.5M1159.6 1026.1v36.5M1175.5 1026.1v36.5M1193.9 1026.1v36.5M1217.3 1026.1v36.5M1231.4 1026.1v36.5M1248.4 1026.1v36.5M1272.8 1026.1v36.5"/>
</g>
<path d="M426 1042C433.3 1042.4 440.5 1042.5 447.8 1042.5C455 1042.5 462.3 1042.4 469.6 1042.1C476.8 1041.8 484.1 1041.3 491.3 1040.8C498.6 1040.2 505.9 1039.5 513.1 1038.8C520.4 1038 527.6 1037.2 534.9 1036.2C542.2 1035.3 549.4 1034.3 556.7 1033.3C563.9 1032.3 571.2 1031.2 578.5 1030.1C585.7 1029 593 1027.9 600.2 1026.9C607.5 1025.8 614.8 1024.7 622 1023.7C629.3 1022.6 636.5 1021.6 643.8 1020.6C651.1 1019.6 658.3 1018.6 665.6 1017.4C672.8 1016.2 680.1 1014.9 687.4 1013.4C694.6 1011.9 701.9 1010.2 709.1 1008.1C716.4 1006.1 723.7 1003.8 730.9 1001.5C738.2 999.3 745.4 997 752.7 994.8C760 992.6 767.2 990.5 774.5 988.6C781.7 986.6 789 984.8 796.3 983.2C803.5 981.5 810.8 980.1 818 978.9C825.3 977.7 832.6 976.7 839.8 975.9C847.1 975.2 854.3 974.7 861.6 974.3C868.9 973.9 876.1 973.6 883.4 973.3C890.7 973.1 897.9 972.9 905.2 972.7C912.4 972.4 919.7 972.2 927 971.8C934.2 971.4 941.5 970.9 948.7 970.3C956 969.7 963.3 969 970.5 968.3C977.8 967.6 985 966.9 992.3 966.2C999.6 965.5 1006.8 964.9 1014.1 964.3C1021.3 963.7 1028.6 963.2 1035.9 962.9C1043.1 962.5 1050.4 962.3 1057.6 962.2C1064.9 962.1 1072.2 962.3 1079.4 962.6C1086.7 963 1093.9 963.5 1101.2 964.4C1108.5 965.3 1115.7 966.4 1123 967.9C1130.2 969.4 1137.5 971.1 1144.8 973.1C1152 975.1 1159.3 977.3 1166.5 979.7C1173.8 982 1181.1 984.6 1188.3 987.2C1195.6 989.9 1202.8 992.6 1210.1 995.4C1217.4 998.2 1224.6 1001.1 1231.9 1003.9C1239.1 1006.8 1246.4 1009.6 1253.7 1012.4C1260.9 1015.1 1268.2 1017.8 1275.4 1020.4C1282.7 1023 1290 1025.4 1297.2 1027.6C1304.5 1029.9 1311.7 1031.9 1319 1033.8L1319 1043.7L426 1043.7Z" fill="#131b42" fill-opacity="0.36"/>
<path d="M426 1042C433.3 1042.4 440.5 1042.5 447.8 1042.5C455 1042.5 462.3 1042.4 469.6 1042.1C476.8 1041.8 484.1 1041.3 491.3 1040.8C498.6 1040.2 505.9 1039.5 513.1 1038.8C520.4 1038 527.6 1037.2 534.9 1036.2C542.2 1035.3 549.4 1034.3 556.7 1033.3C563.9 1032.3 571.2 1031.2 578.5 1030.1C585.7 1029 593 1027.9 600.2 1026.9C607.5 1025.8 614.8 1024.7 622 1023.7C629.3 1022.6 636.5 1021.6 643.8 1020.6C651.1 1019.6 658.3 1018.6 665.6 1017.4C672.8 1016.2 680.1 1014.9 687.4 1013.4C694.6 1011.9 701.9 1010.2 709.1 1008.1C716.4 1006.1 723.7 1003.8 730.9 1001.5C738.2 999.3 745.4 997 752.7 994.8C760 992.6 767.2 990.5 774.5 988.6C781.7 986.6 789 984.8 796.3 983.2C803.5 981.5 810.8 980.1 818 978.9C825.3 977.7 832.6 976.7 839.8 975.9C847.1 975.2 854.3 974.7 861.6 974.3C868.9 973.9 876.1 973.6 883.4 973.3C890.7 973.1 897.9 972.9 905.2 972.7C912.4 972.4 919.7 972.2 927 971.8C934.2 971.4 941.5 970.9 948.7 970.3C956 969.7 963.3 969 970.5 968.3C977.8 967.6 985 966.9 992.3 966.2C999.6 965.5 1006.8 964.9 1014.1 964.3C1021.3 963.7 1028.6 963.2 1035.9 962.9C1043.1 962.5 1050.4 962.3 1057.6 962.2C1064.9 962.1 1072.2 962.3 1079.4 962.6C1086.7 963 1093.9 963.5 1101.2 964.4C1108.5 965.3 1115.7 966.4 1123 967.9C1130.2 969.4 1137.5 971.1 1144.8 973.1C1152 975.1 1159.3 977.3 1166.5 979.7C1173.8 982 1181.1 984.6 1188.3 987.2C1195.6 989.9 1202.8 992.6 1210.1 995.4C1217.4 998.2 1224.6 1001.1 1231.9 1003.9C1239.1 1006.8 1246.4 1009.6 1253.7 1012.4C1260.9 1015.1 1268.2 1017.8 1275.4 1020.4C1282.7 1023 1290 1025.4 1297.2 1027.6C1304.5 1029.9 1311.7 1031.9 1319 1033.8" fill="none" stroke="#131b42" stroke-width="1.7" stroke-linecap="butt"/>
<g stroke="#131b42" stroke-opacity="0.40" stroke-width="3" fill="none">
<path d="M411.4 1026.1v36.5M721.1 1026.1v36.5M766.6 1026.1v36.5M790.9 1026.1v36.5M805 1026.1v36.5M838.9 1026.1v36.5M858.5 1026.1v36.5M880.4 1026.1v36.5M903.2 1026.1v36.5M915.9 1026.1v36.5M936 1026.1v36.5M972.2 1026.1v36.5M994.8 1026.1v36.5M1021.7 1026.1v36.5M1037.2 1026.1v36.5M1046.3 1026.1v36.5M1057.9 1026.1v36.5M1082.1 1026.1v36.5M1099.5 1026.1v36.5M1114.7 1026.1v36.5M1128.2 1026.1v36.5M1143.9 1026.1v36.5M1168.3 1026.1v36.5M1209.9 1026.1v36.5"/>
<path d="M583.2 1026.1v36.5M730.9 1026.1v36.5M766.9 1026.1v36.5M797.1 1026.1v36.5M809.8 1026.1v36.5M842.2 1026.1v36.5M859.6 1026.1v36.5M888.5 1026.1v36.5M905.4 1026.1v36.5M922.4 1026.1v36.5M936.6 1026.1v36.5M972.5 1026.1v36.5M1001.6 1026.1v36.5M1022.8 1026.1v36.5M1037.3 1026.1v36.5M1049 1026.1v36.5M1058.4 1026.1v36.5M1084.3 1026.1v36.5M1100.4 1026.1v36.5M1115.2 1026.1v36.5M1129 1026.1v36.5M1146.2 1026.1v36.5M1169.6 1026.1v36.5M1211.4 1026.1v36.5"/>
<path d="M666 1026.1v36.5M735.9 1026.1v36.5M778.8 1026.1v36.5M802 1026.1v36.5M817.2 1026.1v36.5M842.8 1026.1v36.5M869 1026.1v36.5M890.7 1026.1v36.5M908.4 1026.1v36.5M931.9 1026.1v36.5M941.9 1026.1v36.5M972.9 1026.1v36.5M1008 1026.1v36.5M1023.1 1026.1v36.5M1037.8 1026.1v36.5M1053 1026.1v36.5M1060.6 1026.1v36.5M1089.4 1026.1v36.5M1107.8 1026.1v36.5M1116 1026.1v36.5M1129.2 1026.1v36.5M1152.7 1026.1v36.5M1174.9 1026.1v36.5M1242 1026.1v36.5"/>
<path d="M689.5 1026.1v36.5M757.2 1026.1v36.5M781.5 1026.1v36.5M803 1026.1v36.5M822 1026.1v36.5M846.9 1026.1v36.5M869.9 1026.1v36.5M896.1 1026.1v36.5M910 1026.1v36.5M932.3 1026.1v36.5M947.4 1026.1v36.5M978.2 1026.1v36.5M1008.7 1026.1v36.5M1024.6 1026.1v36.5M1040.3 1026.1v36.5M1053.8 1026.1v36.5M1066.6 1026.1v36.5M1094.6 1026.1v36.5M1108.6 1026.1v36.5M1119.6 1026.1v36.5M1135.7 1026.1v36.5M1154.4 1026.1v36.5M1190.5 1026.1v36.5M1260 1026.1v36.5"/>
<path d="M698.6 1026.1v36.5M763.4 1026.1v36.5M782.5 1026.1v36.5M803.3 1026.1v36.5M824.3 1026.1v36.5M851.7 1026.1v36.5M871.8 1026.1v36.5M899.5 1026.1v36.5M911.4 1026.1v36.5M934.5 1026.1v36.5M953.2 1026.1v36.5M979.9 1026.1v36.5M1011.9 1026.1v36.5M1025 1026.1v36.5M1044.2 1026.1v36.5M1056.4 1026.1v36.5M1071.8 1026.1v36.5M1095.7 1026.1v36.5M1113.2 1026.1v36.5M1120.9 1026.1v36.5M1139.4 1026.1v36.5M1156.4 1026.1v36.5M1194.4 1026.1v36.5M1319.2 1026.1v36.5"/>
<path d="M711.2 1026.1v36.5M763.6 1026.1v36.5M787.1 1026.1v36.5M804.6 1026.1v36.5M831.2 1026.1v36.5M851.9 1026.1v36.5M878 1026.1v36.5M902.1 1026.1v36.5M915.8 1026.1v36.5M934.8 1026.1v36.5M961 1026.1v36.5M989.3 1026.1v36.5M1018.7 1026.1v36.5M1031.4 1026.1v36.5M1045.3 1026.1v36.5M1056.7 1026.1v36.5M1074 1026.1v36.5M1098.9 1026.1v36.5M1113.4 1026.1v36.5M1125.1 1026.1v36.5M1142.4 1026.1v36.5M1160.2 1026.1v36.5M1195.8 1026.1v36.5"/>
</g>
<path d="M293.8 1036.2C301 1035.7 308.3 1034.9 315.6 1033.8C322.8 1032.7 330.1 1031.5 337.4 1030.1C344.6 1028.7 351.9 1027.3 359.2 1025.9C366.5 1024.4 373.7 1023.1 381 1021.8C388.3 1020.6 395.5 1019.5 402.8 1018.4C410.1 1017.4 417.4 1016.5 424.6 1015.5C431.9 1014.6 439.2 1013.7 446.4 1012.8C453.7 1011.9 461 1010.9 468.3 1009.9C475.5 1008.9 482.8 1007.7 490.1 1006.5C497.3 1005.2 504.6 1003.9 511.9 1002.4C519.2 1001 526.4 999.4 533.7 997.8C541 996.2 548.2 994.5 555.5 992.7C562.8 990.9 570.1 989.1 577.3 987.2C584.6 985.3 591.9 983.3 599.1 981.3C606.4 979.3 613.7 977.3 621 975.3C628.2 973.3 635.5 971.4 642.8 969.7C650 968 657.3 966.6 664.6 965.5C671.9 964.4 679.1 963.7 686.4 963.5C693.7 963.2 700.9 963.4 708.2 963.8C715.5 964.1 722.8 964.7 730 965.4C737.3 966 744.6 966.6 751.8 967.3C759.1 967.9 766.4 968.5 773.7 969.2C780.9 969.9 788.2 970.8 795.5 971.8C802.7 972.8 810 973.9 817.3 975.1C824.6 976.3 831.8 977.6 839.1 978.9C846.4 980.3 853.6 981.7 860.9 983.2C868.2 984.7 875.5 986.2 882.7 987.7C890 989.3 897.3 990.8 904.5 992.4C911.8 993.9 919.1 995.4 926.4 997C933.6 998.5 940.9 999.9 948.2 1001.3C955.4 1002.7 962.7 1004 970 1005.1C977.2 1006.2 984.5 1007.1 991.8 1007.9C999.1 1008.7 1006.3 1009.4 1013.6 1010C1020.9 1010.7 1028.1 1011.3 1035.4 1012C1042.7 1012.7 1050 1013.5 1057.2 1014.2C1064.5 1015 1071.8 1015.7 1079 1016.6C1086.3 1017.4 1093.6 1018.2 1100.9 1019C1108.1 1019.9 1115.4 1020.7 1122.7 1021.6C1129.9 1022.4 1137.2 1023.3 1144.5 1024.2C1151.8 1025 1159 1025.9 1166.3 1026.8C1173.6 1027.6 1180.8 1028.5 1188.1 1029.3C1195.4 1030.2 1202.7 1031 1209.9 1031.8C1217.2 1032.6 1224.5 1033.4 1231.7 1034.2C1239 1035 1246.3 1035.7 1253.6 1036.4C1260.8 1037.1 1268.1 1037.8 1275.4 1038.4C1282.6 1039.1 1289.9 1039.7 1297.2 1040.2C1304.5 1040.8 1311.7 1041.3 1319 1041.8L1319 1043.7L293.8 1043.7Z" fill="#d55e00" fill-opacity="0.39"/>
<path d="M293.8 1036.2C301 1035.7 308.3 1034.9 315.6 1033.8C322.8 1032.7 330.1 1031.5 337.4 1030.1C344.6 1028.7 351.9 1027.3 359.2 1025.9C366.5 1024.4 373.7 1023.1 381 1021.8C388.3 1020.6 395.5 1019.5 402.8 1018.4C410.1 1017.4 417.4 1016.5 424.6 1015.5C431.9 1014.6 439.2 1013.7 446.4 1012.8C453.7 1011.9 461 1010.9 468.3 1009.9C475.5 1008.9 482.8 1007.7 490.1 1006.5C497.3 1005.2 504.6 1003.9 511.9 1002.4C519.2 1001 526.4 999.4 533.7 997.8C541 996.2 548.2 994.5 555.5 992.7C562.8 990.9 570.1 989.1 577.3 987.2C584.6 985.3 591.9 983.3 599.1 981.3C606.4 979.3 613.7 977.3 621 975.3C628.2 973.3 635.5 971.4 642.8 969.7C650 968 657.3 966.6 664.6 965.5C671.9 964.4 679.1 963.7 686.4 963.5C693.7 963.2 700.9 963.4 708.2 963.8C715.5 964.1 722.8 964.7 730 965.4C737.3 966 744.6 966.6 751.8 967.3C759.1 967.9 766.4 968.5 773.7 969.2C780.9 969.9 788.2 970.8 795.5 971.8C802.7 972.8 810 973.9 817.3 975.1C824.6 976.3 831.8 977.6 839.1 978.9C846.4 980.3 853.6 981.7 860.9 983.2C868.2 984.7 875.5 986.2 882.7 987.7C890 989.3 897.3 990.8 904.5 992.4C911.8 993.9 919.1 995.4 926.4 997C933.6 998.5 940.9 999.9 948.2 1001.3C955.4 1002.7 962.7 1004 970 1005.1C977.2 1006.2 984.5 1007.1 991.8 1007.9C999.1 1008.7 1006.3 1009.4 1013.6 1010C1020.9 1010.7 1028.1 1011.3 1035.4 1012C1042.7 1012.7 1050 1013.5 1057.2 1014.2C1064.5 1015 1071.8 1015.7 1079 1016.6C1086.3 1017.4 1093.6 1018.2 1100.9 1019C1108.1 1019.9 1115.4 1020.7 1122.7 1021.6C1129.9 1022.4 1137.2 1023.3 1144.5 1024.2C1151.8 1025 1159 1025.9 1166.3 1026.8C1173.6 1027.6 1180.8 1028.5 1188.1 1029.3C1195.4 1030.2 1202.7 1031 1209.9 1031.8C1217.2 1032.6 1224.5 1033.4 1231.7 1034.2C1239 1035 1246.3 1035.7 1253.6 1036.4C1260.8 1037.1 1268.1 1037.8 1275.4 1038.4C1282.6 1039.1 1289.9 1039.7 1297.2 1040.2C1304.5 1040.8 1311.7 1041.3 1319 1041.8" fill="none" stroke="#d55e00" stroke-width="1.7" stroke-linecap="butt"/>
<g stroke="#d55e00" stroke-opacity="0.44" stroke-width="3" fill="none">
<path d="M308.1 1026.1v36.5M409.5 1026.1v36.5M482.4 1026.1v36.5M531.3 1026.1v36.5M592 1026.1v36.5M630.8 1026.1v36.5M643.2 1026.1v36.5M662.9 1026.1v36.5M673.6 1026.1v36.5M681.5 1026.1v36.5M697 1026.1v36.5M709.5 1026.1v36.5M721.2 1026.1v36.5M730.5 1026.1v36.5M753 1026.1v36.5M774 1026.1v36.5M789.5 1026.1v36.5M797.9 1026.1v36.5M819.7 1026.1v36.5M840.5 1026.1v36.5M864.7 1026.1v36.5M891.7 1026.1v36.5M911.1 1026.1v36.5M938.9 1026.1v36.5M979.3 1026.1v36.5M1019.5 1026.1v36.5M1067.2 1026.1v36.5M1130.7 1026.1v36.5"/>
<path d="M355.4 1026.1v36.5M419.2 1026.1v36.5M488 1026.1v36.5M560.3 1026.1v36.5M601.4 1026.1v36.5M631.5 1026.1v36.5M648.6 1026.1v36.5M663.5 1026.1v36.5M676 1026.1v36.5M682.9 1026.1v36.5M698.1 1026.1v36.5M710.1 1026.1v36.5M721.6 1026.1v36.5M733.3 1026.1v36.5M753.8 1026.1v36.5M777.6 1026.1v36.5M791.7 1026.1v36.5M800.6 1026.1v36.5M821.3 1026.1v36.5M842.2 1026.1v36.5M866.9 1026.1v36.5M893 1026.1v36.5M916.1 1026.1v36.5M940.3 1026.1v36.5M989.8 1026.1v36.5M1028.3 1026.1v36.5M1073.3 1026.1v36.5M1140.4 1026.1v36.5"/>
<path d="M368.4 1026.1v36.5M447.8 1026.1v36.5M490.8 1026.1v36.5M563 1026.1v36.5M607.9 1026.1v36.5M633.6 1026.1v36.5M650.6 1026.1v36.5M663.7 1026.1v36.5M677.1 1026.1v36.5M686 1026.1v36.5M698.6 1026.1v36.5M714.7 1026.1v36.5M724.7 1026.1v36.5M738.5 1026.1v36.5M758.4 1026.1v36.5M778.7 1026.1v36.5M792.8 1026.1v36.5M803.6 1026.1v36.5M826.2 1026.1v36.5M844.7 1026.1v36.5M870 1026.1v36.5M895.8 1026.1v36.5M926.6 1026.1v36.5M960.2 1026.1v36.5M994.7 1026.1v36.5M1035.7 1026.1v36.5M1080.6 1026.1v36.5M1160.9 1026.1v36.5"/>
<path d="M381.1 1026.1v36.5M450.3 1026.1v36.5M493.6 1026.1v36.5M568.7 1026.1v36.5M609.8 1026.1v36.5M639.2 1026.1v36.5M652.1 1026.1v36.5M667.4 1026.1v36.5M677.7 1026.1v36.5M690.7 1026.1v36.5M700 1026.1v36.5M715.1 1026.1v36.5M725.3 1026.1v36.5M744.7 1026.1v36.5M761.5 1026.1v36.5M783.9 1026.1v36.5M792.9 1026.1v36.5M804.2 1026.1v36.5M828.5 1026.1v36.5M854.1 1026.1v36.5M880.4 1026.1v36.5M906.1 1026.1v36.5M928.6 1026.1v36.5M960.6 1026.1v36.5M1003 1026.1v36.5M1050.8 1026.1v36.5M1088.1 1026.1v36.5M1164.7 1026.1v36.5"/>
<path d="M385.3 1026.1v36.5M455.3 1026.1v36.5M495.5 1026.1v36.5M574.3 1026.1v36.5M621.3 1026.1v36.5M639.7 1026.1v36.5M658.6 1026.1v36.5M668.7 1026.1v36.5M679.2 1026.1v36.5M691.7 1026.1v36.5M703.2 1026.1v36.5M715.5 1026.1v36.5M725.8 1026.1v36.5M749.3 1026.1v36.5M767.8 1026.1v36.5M784.6 1026.1v36.5M795.9 1026.1v36.5M807 1026.1v36.5M829.9 1026.1v36.5M861.3 1026.1v36.5M882 1026.1v36.5M908.2 1026.1v36.5M930.9 1026.1v36.5M961.7 1026.1v36.5M1007.6 1026.1v36.5M1052.5 1026.1v36.5M1108.4 1026.1v36.5M1185.3 1026.1v36.5"/>
<path d="M396.1 1026.1v36.5M478.3 1026.1v36.5M504.8 1026.1v36.5M580.8 1026.1v36.5M624.5 1026.1v36.5M641.8 1026.1v36.5M659.6 1026.1v36.5M672.7 1026.1v36.5M680.5 1026.1v36.5M693.7 1026.1v36.5M704.5 1026.1v36.5M716.6 1026.1v36.5M729.2 1026.1v36.5M752.5 1026.1v36.5M770.6 1026.1v36.5M789 1026.1v36.5M796.5 1026.1v36.5M817.2 1026.1v36.5M833.2 1026.1v36.5M861.5 1026.1v36.5M886.9 1026.1v36.5M911 1026.1v36.5M938.6 1026.1v36.5M975.3 1026.1v36.5M1010.9 1026.1v36.5M1056.6 1026.1v36.5M1116.2 1026.1v36.5M1225.9 1026.1v36.5"/>
</g>
</g>
<g stroke="#000" stroke-width="4.4" fill="none">
<path d="M241.8 6V1046.3"/>
<path d="M239.6 1044.1H1370"/>
</g>
<g stroke="#333" stroke-width="4.2" fill="none">
<path d="M230.2 205.7H240"/>
<path d="M230.2 415.2H240"/>
<path d="M230.2 624.9H240"/>
<path d="M230.2 834.5H240"/>
<path d="M230.2 1044.1H240"/>
<path d="M292.5 1046V1054.8"/>
<path d="M549.2 1046V1054.8"/>
<path d="M806 1046V1054.8"/>
<path d="M1062.4 1046V1054.8"/>
<path d="M1319 1046V1054.8"/>
</g>
<g class="t" font-size="36.3" fill="#4d4d4d" text-anchor="end">
<text x="220.8" y="219">Sprint</text>
<text x="220.8" y="428.6">Run</text>
<text x="220.8" y="638.1">Jog</text>
<text x="220.8" y="847.8">Fast Walk</text>
<text x="220.8" y="1057.4">Walk</text>
</g>
<g class="t" font-size="36.3" fill="#4d4d4d" text-anchor="middle">
<text x="292.5" y="1090.6">0.00</text>
<text x="549.2" y="1090.6">0.25</text>
<text x="806" y="1090.6">0.50</text>
<text x="1062.4" y="1090.6">0.75</text>
<text x="1319" y="1090.6">1.00</text>
</g>
<g class="t" font-size="45.5" fill="#000" text-anchor="middle">
<text x="805.6" y="1141">SNW</text>
<text transform="translate(39.5 525) rotate(-90)">Speed</text>
</g>
<g class="t" font-size="41.2" font-weight="bold" fill="#000">
<text x="143.3" y="1190.8">Spring-Like</text>
<text x="1277.1" y="1160.8" text-anchor="middle">Brake</text>
<text x="1283" y="1219.8" text-anchor="middle">Motor-Like</text>
</g>
<g>
<rect x="534.5" y="1219.55" width="68.9" height="68.4" fill="#fff"/>
<rect x="534.5" y="1219.55" width="68.9" height="68.4" fill="#3a77ba" fill-opacity="0.36" stroke="#000" stroke-width="1.6"/>
<path d="M568.8 1236.2V1272.7" stroke="#0a0f1e" stroke-opacity="0.47" stroke-width="2.9"/>
<text x="627.2" y="1266.6" class="t" font-size="36.3" fill="#000">Hip</text>
<rect x="710" y="1219.55" width="68.9" height="68.4" fill="#fff"/>
<rect x="710" y="1219.55" width="68.9" height="68.4" fill="#131b42" fill-opacity="0.36" stroke="#000" stroke-width="1.6"/>
<path d="M744.2 1236.2V1272.7" stroke="#0a0f1e" stroke-opacity="0.47" stroke-width="2.9"/>
<text x="802" y="1266.6" class="t" font-size="36.3" fill="#000">Knee</text>
<rect x="915.6" y="1219.55" width="68.9" height="68.4" fill="#fff"/>
<rect x="915.6" y="1219.55" width="68.9" height="68.4" fill="#d55e00" fill-opacity="0.39" stroke="#000" stroke-width="1.6"/>
<path d="M949.8 1236.2V1272.7" stroke="#0a0f1e" stroke-opacity="0.47" stroke-width="2.9"/>
<text x="1007.3" y="1266.6" class="t" font-size="36.3" fill="#000">Ankle</text>
</g>
</svg>
</body>
</html>
